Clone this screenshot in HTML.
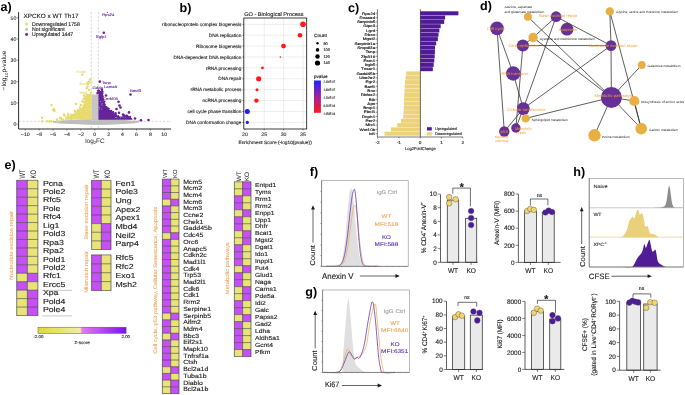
<!DOCTYPE html><html><head><meta charset="utf-8"><style>html,body{margin:0;padding:0;background:#fff;width:685px;height:395px;overflow:hidden}svg{display:block;font-family:"Liberation Sans",sans-serif;text-rendering:geometricPrecision;filter:blur(0.3px)}</style></head><body><svg width="685" height="395" viewBox="0 0 685 395"><rect width="685" height="395" fill="#fff"/>
<defs><linearGradient id="pv" x1="0" y1="0" x2="0" y2="1"><stop offset="0" stop-color="#2222ff"/><stop offset="0.5" stop-color="#a020a0"/><stop offset="1" stop-color="#ff1a1a"/></linearGradient><linearGradient id="zs" x1="0" y1="0" x2="1" y2="0"><stop offset="0" stop-color="#e0d83a"/><stop offset="0.48" stop-color="#eeeea6"/><stop offset="0.5" stop-color="#e37af5"/><stop offset="1" stop-color="#7a12ee"/></linearGradient></defs>
<line x1="91.30" y1="12.00" x2="91.30" y2="129.00" stroke="#b0b0b0" stroke-width="0.5" stroke-dasharray="2.2,1.6"/>
<line x1="98.40" y1="12.00" x2="98.40" y2="129.00" stroke="#b0b0b0" stroke-width="0.5" stroke-dasharray="2.2,1.6"/>
<line x1="18.60" y1="121.40" x2="171.00" y2="121.40" stroke="#b0b0b0" stroke-width="0.5" stroke-dasharray="2.2,1.6"/>
<ellipse cx="96" cy="122.0" rx="43.5" ry="2.5" fill="#BDBDBD"/>
<ellipse cx="100" cy="121.9" rx="30" ry="2.9" fill="#BDBDBD"/>
<path d="M91.40,121.00 L91.40,97.00 L93.00,93.50 L95.00,95.50 L96.50,92.80 L98.50,94.00 L98.50,121.00 Z" fill="#C6C6C6" />
<circle cx="53.50" cy="121.60" r="1.00" fill="#BDBDBD" />
<circle cx="56.00" cy="121.80" r="1.00" fill="#BDBDBD" />
<circle cx="58.50" cy="121.60" r="1.00" fill="#BDBDBD" />
<circle cx="134.00" cy="121.30" r="1.00" fill="#BDBDBD" />
<circle cx="136.00" cy="121.50" r="1.00" fill="#BDBDBD" />
<circle cx="138.50" cy="121.20" r="1.00" fill="#BDBDBD" />
<path d="M91.50,119.80 L91.50,96.00 L90.00,95.30 L88.50,96.20 L87.00,97.80 L86.00,100.50 L85.30,103.00 L84.50,106.00 L83.20,108.50 L81.00,110.00 L79.00,111.80 L77.00,113.00 L74.50,114.50 L72.00,115.20 L69.50,116.80 L67.00,118.00 L64.00,119.80 Z" fill="#E8DA6C" />
<path d="M98.40,119.80 L98.40,92.50 L99.80,91.50 L101.30,93.00 L102.00,97.00 L102.50,101.00 L103.30,105.00 L105.50,108.00 L108.00,110.00 L112.00,113.00 L115.00,115.00 L120.00,116.50 L127.00,117.30 L131.80,118.00 L132.60,119.80 Z" fill="#66249A" />
<circle cx="84.32" cy="106.02" r="1.00" fill="#E8DA6C" />
<circle cx="67.95" cy="117.68" r="1.00" fill="#E8DA6C" />
<circle cx="81.37" cy="110.87" r="1.00" fill="#E8DA6C" />
<circle cx="85.41" cy="98.81" r="1.00" fill="#E8DA6C" />
<circle cx="87.77" cy="95.28" r="1.00" fill="#E8DA6C" />
<circle cx="88.67" cy="97.08" r="1.00" fill="#E8DA6C" />
<circle cx="91.29" cy="96.31" r="1.00" fill="#E8DA6C" />
<circle cx="80.17" cy="111.76" r="1.00" fill="#E8DA6C" />
<circle cx="87.82" cy="96.11" r="1.00" fill="#E8DA6C" />
<circle cx="89.47" cy="95.91" r="1.00" fill="#E8DA6C" />
<circle cx="84.97" cy="98.83" r="1.00" fill="#E8DA6C" />
<circle cx="81.18" cy="109.60" r="1.00" fill="#E8DA6C" />
<circle cx="71.62" cy="115.12" r="1.00" fill="#E8DA6C" />
<circle cx="86.66" cy="100.78" r="1.00" fill="#E8DA6C" />
<circle cx="86.54" cy="102.50" r="1.00" fill="#E8DA6C" />
<circle cx="87.97" cy="98.26" r="1.00" fill="#E8DA6C" />
<circle cx="91.07" cy="95.87" r="1.00" fill="#E8DA6C" />
<circle cx="69.27" cy="117.88" r="1.00" fill="#E8DA6C" />
<circle cx="78.11" cy="112.07" r="1.00" fill="#E8DA6C" />
<circle cx="87.27" cy="96.37" r="1.00" fill="#E8DA6C" />
<circle cx="89.97" cy="96.59" r="1.00" fill="#E8DA6C" />
<circle cx="74.75" cy="115.10" r="1.00" fill="#E8DA6C" />
<circle cx="76.92" cy="113.21" r="1.00" fill="#E8DA6C" />
<circle cx="80.20" cy="112.50" r="1.00" fill="#E8DA6C" />
<circle cx="85.78" cy="98.58" r="1.00" fill="#E8DA6C" />
<circle cx="81.94" cy="108.98" r="1.00" fill="#E8DA6C" />
<circle cx="87.75" cy="96.96" r="1.00" fill="#E8DA6C" />
<circle cx="82.86" cy="107.66" r="1.00" fill="#E8DA6C" />
<circle cx="87.14" cy="98.79" r="1.00" fill="#E8DA6C" />
<circle cx="87.27" cy="97.33" r="1.00" fill="#E8DA6C" />
<circle cx="85.24" cy="100.93" r="1.00" fill="#E8DA6C" />
<circle cx="79.62" cy="113.45" r="1.00" fill="#E8DA6C" />
<circle cx="77.63" cy="111.59" r="1.00" fill="#E8DA6C" />
<circle cx="68.68" cy="116.59" r="1.00" fill="#E8DA6C" />
<circle cx="83.17" cy="107.63" r="1.00" fill="#E8DA6C" />
<circle cx="84.98" cy="106.41" r="1.00" fill="#E8DA6C" />
<circle cx="88.00" cy="96.13" r="1.00" fill="#E8DA6C" />
<circle cx="79.39" cy="112.49" r="1.00" fill="#E8DA6C" />
<circle cx="91.62" cy="96.79" r="1.00" fill="#E8DA6C" />
<circle cx="75.88" cy="114.08" r="1.00" fill="#E8DA6C" />
<circle cx="87.35" cy="95.59" r="1.00" fill="#E8DA6C" />
<circle cx="82.49" cy="109.44" r="1.00" fill="#E8DA6C" />
<circle cx="83.34" cy="105.41" r="1.00" fill="#E8DA6C" />
<circle cx="82.01" cy="109.71" r="1.00" fill="#E8DA6C" />
<circle cx="88.77" cy="96.53" r="1.00" fill="#E8DA6C" />
<circle cx="86.22" cy="101.89" r="1.00" fill="#E8DA6C" />
<circle cx="86.34" cy="101.34" r="1.00" fill="#E8DA6C" />
<circle cx="86.61" cy="98.45" r="1.00" fill="#E8DA6C" />
<circle cx="86.75" cy="97.98" r="1.00" fill="#E8DA6C" />
<circle cx="86.81" cy="98.63" r="1.00" fill="#E8DA6C" />
<circle cx="85.34" cy="98.41" r="1.00" fill="#E8DA6C" />
<circle cx="89.73" cy="95.55" r="1.00" fill="#E8DA6C" />
<circle cx="75.09" cy="113.64" r="1.00" fill="#E8DA6C" />
<circle cx="84.12" cy="106.34" r="1.00" fill="#E8DA6C" />
<circle cx="85.99" cy="99.95" r="1.00" fill="#E8DA6C" />
<circle cx="76.02" cy="112.98" r="1.00" fill="#E8DA6C" />
<circle cx="70.62" cy="115.84" r="1.00" fill="#E8DA6C" />
<circle cx="83.48" cy="106.93" r="1.00" fill="#E8DA6C" />
<circle cx="87.60" cy="96.61" r="1.00" fill="#E8DA6C" />
<circle cx="71.74" cy="116.04" r="1.00" fill="#E8DA6C" />
<circle cx="74.32" cy="114.60" r="1.00" fill="#E8DA6C" />
<circle cx="77.37" cy="112.41" r="1.00" fill="#E8DA6C" />
<circle cx="65.92" cy="117.86" r="1.00" fill="#E8DA6C" />
<circle cx="87.78" cy="97.19" r="1.00" fill="#E8DA6C" />
<circle cx="70.81" cy="114.61" r="1.00" fill="#E8DA6C" />
<circle cx="83.84" cy="110.19" r="1.00" fill="#E8DA6C" />
<circle cx="90.94" cy="96.47" r="1.00" fill="#E8DA6C" />
<circle cx="76.71" cy="111.72" r="1.00" fill="#E8DA6C" />
<circle cx="89.53" cy="96.15" r="1.00" fill="#E8DA6C" />
<circle cx="75.69" cy="112.60" r="1.00" fill="#E8DA6C" />
<circle cx="81.36" cy="111.11" r="1.00" fill="#E8DA6C" />
<circle cx="68.43" cy="117.40" r="1.00" fill="#E8DA6C" />
<circle cx="72.41" cy="116.41" r="1.00" fill="#E8DA6C" />
<circle cx="88.67" cy="96.77" r="1.00" fill="#E8DA6C" />
<circle cx="80.34" cy="109.03" r="1.00" fill="#E8DA6C" />
<circle cx="90.87" cy="97.35" r="1.00" fill="#E8DA6C" />
<circle cx="81.97" cy="111.15" r="1.00" fill="#E8DA6C" />
<circle cx="88.52" cy="95.01" r="1.00" fill="#E8DA6C" />
<circle cx="80.42" cy="111.42" r="1.00" fill="#E8DA6C" />
<circle cx="72.11" cy="115.46" r="1.00" fill="#E8DA6C" />
<circle cx="85.83" cy="102.43" r="1.00" fill="#E8DA6C" />
<circle cx="83.60" cy="109.38" r="1.00" fill="#E8DA6C" />
<circle cx="88.43" cy="96.17" r="1.00" fill="#E8DA6C" />
<circle cx="85.87" cy="102.15" r="1.00" fill="#E8DA6C" />
<circle cx="72.43" cy="115.46" r="1.00" fill="#E8DA6C" />
<circle cx="87.47" cy="99.93" r="1.00" fill="#E8DA6C" />
<circle cx="84.05" cy="109.35" r="1.00" fill="#E8DA6C" />
<circle cx="85.85" cy="98.69" r="1.00" fill="#E8DA6C" />
<circle cx="84.72" cy="104.57" r="1.00" fill="#E8DA6C" />
<circle cx="84.37" cy="102.74" r="1.00" fill="#E8DA6C" />
<circle cx="90.17" cy="95.65" r="1.00" fill="#E8DA6C" />
<circle cx="90.40" cy="95.08" r="1.00" fill="#E8DA6C" />
<circle cx="89.61" cy="97.31" r="1.00" fill="#E8DA6C" />
<circle cx="88.74" cy="97.32" r="1.00" fill="#E8DA6C" />
<circle cx="74.92" cy="114.74" r="1.00" fill="#E8DA6C" />
<circle cx="79.74" cy="110.66" r="1.00" fill="#E8DA6C" />
<circle cx="91.08" cy="97.19" r="1.00" fill="#E8DA6C" />
<circle cx="84.27" cy="101.64" r="1.00" fill="#E8DA6C" />
<circle cx="89.21" cy="96.54" r="1.00" fill="#E8DA6C" />
<circle cx="88.71" cy="96.68" r="1.00" fill="#E8DA6C" />
<circle cx="86.93" cy="102.43" r="1.00" fill="#E8DA6C" />
<circle cx="88.50" cy="96.74" r="1.00" fill="#E8DA6C" />
<circle cx="84.96" cy="101.95" r="1.00" fill="#E8DA6C" />
<circle cx="82.46" cy="110.00" r="1.00" fill="#E8DA6C" />
<circle cx="90.18" cy="95.34" r="1.00" fill="#E8DA6C" />
<circle cx="80.28" cy="111.94" r="1.00" fill="#E8DA6C" />
<circle cx="83.37" cy="107.79" r="1.00" fill="#E8DA6C" />
<circle cx="83.83" cy="107.78" r="1.00" fill="#E8DA6C" />
<circle cx="86.34" cy="102.13" r="1.00" fill="#E8DA6C" />
<circle cx="67.23" cy="117.37" r="1.00" fill="#E8DA6C" />
<circle cx="105.54" cy="107.82" r="1.00" fill="#66249A" />
<circle cx="125.17" cy="117.63" r="1.00" fill="#66249A" />
<circle cx="100.01" cy="93.23" r="1.00" fill="#66249A" />
<circle cx="102.88" cy="103.14" r="1.00" fill="#66249A" />
<circle cx="100.75" cy="93.86" r="1.00" fill="#66249A" />
<circle cx="104.80" cy="107.72" r="1.00" fill="#66249A" />
<circle cx="103.01" cy="102.61" r="1.00" fill="#66249A" />
<circle cx="99.91" cy="92.20" r="1.00" fill="#66249A" />
<circle cx="115.72" cy="115.45" r="1.00" fill="#66249A" />
<circle cx="101.77" cy="94.65" r="1.00" fill="#66249A" />
<circle cx="104.96" cy="104.66" r="1.00" fill="#66249A" />
<circle cx="101.37" cy="93.82" r="1.00" fill="#66249A" />
<circle cx="107.22" cy="108.50" r="1.00" fill="#66249A" />
<circle cx="102.91" cy="103.69" r="1.00" fill="#66249A" />
<circle cx="130.26" cy="116.87" r="1.00" fill="#66249A" />
<circle cx="111.36" cy="113.12" r="1.00" fill="#66249A" />
<circle cx="97.91" cy="90.72" r="1.00" fill="#66249A" />
<circle cx="126.46" cy="116.97" r="1.00" fill="#66249A" />
<circle cx="98.31" cy="92.69" r="1.00" fill="#66249A" />
<circle cx="109.36" cy="110.77" r="1.00" fill="#66249A" />
<circle cx="121.63" cy="117.69" r="1.00" fill="#66249A" />
<circle cx="99.81" cy="92.60" r="1.00" fill="#66249A" />
<circle cx="123.65" cy="115.90" r="1.00" fill="#66249A" />
<circle cx="101.21" cy="94.27" r="1.00" fill="#66249A" />
<circle cx="103.41" cy="99.80" r="1.00" fill="#66249A" />
<circle cx="106.32" cy="107.76" r="1.00" fill="#66249A" />
<circle cx="99.04" cy="91.60" r="1.00" fill="#66249A" />
<circle cx="100.73" cy="93.20" r="1.00" fill="#66249A" />
<circle cx="118.16" cy="115.88" r="1.00" fill="#66249A" />
<circle cx="103.79" cy="105.26" r="1.00" fill="#66249A" />
<circle cx="108.16" cy="110.77" r="1.00" fill="#66249A" />
<circle cx="112.20" cy="112.25" r="1.00" fill="#66249A" />
<circle cx="103.44" cy="104.85" r="1.00" fill="#66249A" />
<circle cx="105.40" cy="110.11" r="1.00" fill="#66249A" />
<circle cx="104.61" cy="101.51" r="1.00" fill="#66249A" />
<circle cx="101.36" cy="93.22" r="1.00" fill="#66249A" />
<circle cx="104.05" cy="104.43" r="1.00" fill="#66249A" />
<circle cx="101.08" cy="94.46" r="1.00" fill="#66249A" />
<circle cx="110.77" cy="113.04" r="1.00" fill="#66249A" />
<circle cx="123.00" cy="117.33" r="1.00" fill="#66249A" />
<circle cx="104.71" cy="106.68" r="1.00" fill="#66249A" />
<circle cx="105.19" cy="106.87" r="1.00" fill="#66249A" />
<circle cx="102.96" cy="99.42" r="1.00" fill="#66249A" />
<circle cx="102.04" cy="106.35" r="1.00" fill="#66249A" />
<circle cx="99.69" cy="92.36" r="1.00" fill="#66249A" />
<circle cx="100.05" cy="92.64" r="1.00" fill="#66249A" />
<circle cx="126.55" cy="117.96" r="1.00" fill="#66249A" />
<circle cx="113.18" cy="112.07" r="1.00" fill="#66249A" />
<circle cx="108.19" cy="108.59" r="1.00" fill="#66249A" />
<circle cx="113.59" cy="113.82" r="1.00" fill="#66249A" />
<circle cx="128.60" cy="117.26" r="1.00" fill="#66249A" />
<circle cx="103.86" cy="102.34" r="1.00" fill="#66249A" />
<circle cx="101.21" cy="95.52" r="1.00" fill="#66249A" />
<circle cx="130.02" cy="117.06" r="1.00" fill="#66249A" />
<circle cx="101.31" cy="97.89" r="1.00" fill="#66249A" />
<circle cx="102.69" cy="96.06" r="1.00" fill="#66249A" />
<circle cx="109.43" cy="111.89" r="1.00" fill="#66249A" />
<circle cx="109.07" cy="111.08" r="1.00" fill="#66249A" />
<circle cx="102.10" cy="94.73" r="1.00" fill="#66249A" />
<circle cx="103.20" cy="104.41" r="1.00" fill="#66249A" />
<circle cx="106.44" cy="108.15" r="1.00" fill="#66249A" />
<circle cx="103.44" cy="102.63" r="1.00" fill="#66249A" />
<circle cx="102.31" cy="105.35" r="1.00" fill="#66249A" />
<circle cx="102.75" cy="96.83" r="1.00" fill="#66249A" />
<circle cx="124.80" cy="116.36" r="1.00" fill="#66249A" />
<circle cx="97.22" cy="93.07" r="1.00" fill="#66249A" />
<circle cx="111.52" cy="112.93" r="1.00" fill="#66249A" />
<circle cx="115.24" cy="114.59" r="1.00" fill="#66249A" />
<circle cx="101.52" cy="93.80" r="1.00" fill="#66249A" />
<circle cx="100.98" cy="91.63" r="1.00" fill="#66249A" />
<circle cx="108.35" cy="110.21" r="1.00" fill="#66249A" />
<circle cx="102.60" cy="93.31" r="1.00" fill="#66249A" />
<circle cx="102.50" cy="104.06" r="1.00" fill="#66249A" />
<circle cx="107.51" cy="109.62" r="1.00" fill="#66249A" />
<circle cx="115.08" cy="115.54" r="1.00" fill="#66249A" />
<circle cx="112.07" cy="114.30" r="1.00" fill="#66249A" />
<circle cx="102.12" cy="103.36" r="1.00" fill="#66249A" />
<circle cx="109.90" cy="111.51" r="1.00" fill="#66249A" />
<circle cx="107.19" cy="109.59" r="1.00" fill="#66249A" />
<circle cx="111.32" cy="112.36" r="1.00" fill="#66249A" />
<circle cx="102.91" cy="99.38" r="1.00" fill="#66249A" />
<circle cx="99.21" cy="90.97" r="1.00" fill="#66249A" />
<circle cx="106.43" cy="106.98" r="1.00" fill="#66249A" />
<circle cx="111.60" cy="113.15" r="1.00" fill="#66249A" />
<circle cx="102.39" cy="99.42" r="1.00" fill="#66249A" />
<circle cx="101.71" cy="100.57" r="1.00" fill="#66249A" />
<circle cx="102.50" cy="98.78" r="1.00" fill="#66249A" />
<circle cx="115.24" cy="115.61" r="1.00" fill="#66249A" />
<circle cx="116.01" cy="115.31" r="1.00" fill="#66249A" />
<circle cx="106.44" cy="108.14" r="1.00" fill="#66249A" />
<circle cx="102.03" cy="92.66" r="1.00" fill="#66249A" />
<circle cx="100.76" cy="95.45" r="1.00" fill="#66249A" />
<circle cx="102.40" cy="104.26" r="1.00" fill="#66249A" />
<circle cx="104.55" cy="106.56" r="1.00" fill="#66249A" />
<circle cx="100.77" cy="91.90" r="1.00" fill="#66249A" />
<circle cx="102.28" cy="97.75" r="1.00" fill="#66249A" />
<circle cx="105.55" cy="107.60" r="1.00" fill="#66249A" />
<circle cx="115.06" cy="115.64" r="1.00" fill="#66249A" />
<circle cx="106.73" cy="110.97" r="1.00" fill="#66249A" />
<circle cx="105.92" cy="108.15" r="1.00" fill="#66249A" />
<circle cx="98.73" cy="90.32" r="1.00" fill="#66249A" />
<circle cx="102.96" cy="108.01" r="1.00" fill="#66249A" />
<circle cx="98.60" cy="91.47" r="1.00" fill="#66249A" />
<circle cx="102.52" cy="101.00" r="1.00" fill="#66249A" />
<circle cx="128.17" cy="117.93" r="1.00" fill="#66249A" />
<circle cx="102.66" cy="91.61" r="1.00" fill="#66249A" />
<circle cx="108.89" cy="108.73" r="1.00" fill="#66249A" />
<circle cx="102.61" cy="98.19" r="1.00" fill="#66249A" />
<circle cx="128.27" cy="117.03" r="1.00" fill="#66249A" />
<circle cx="101.80" cy="99.08" r="1.00" fill="#66249A" />
<circle cx="81.06" cy="111.82" r="0.45" fill="#ffffff" fill-opacity="0.8"/>
<circle cx="84.57" cy="116.05" r="0.45" fill="#ffffff" fill-opacity="0.8"/>
<circle cx="87.12" cy="102.50" r="0.45" fill="#ffffff" fill-opacity="0.8"/>
<circle cx="86.23" cy="111.31" r="0.45" fill="#ffffff" fill-opacity="0.8"/>
<circle cx="91.25" cy="97.81" r="0.45" fill="#ffffff" fill-opacity="0.8"/>
<circle cx="77.06" cy="115.37" r="0.45" fill="#ffffff" fill-opacity="0.8"/>
<circle cx="87.12" cy="117.70" r="0.45" fill="#ffffff" fill-opacity="0.8"/>
<circle cx="90.76" cy="109.59" r="0.45" fill="#ffffff" fill-opacity="0.8"/>
<circle cx="89.58" cy="104.42" r="0.45" fill="#ffffff" fill-opacity="0.8"/>
<circle cx="87.82" cy="106.30" r="0.45" fill="#ffffff" fill-opacity="0.8"/>
<circle cx="90.01" cy="97.89" r="0.45" fill="#ffffff" fill-opacity="0.8"/>
<circle cx="85.87" cy="108.73" r="0.45" fill="#ffffff" fill-opacity="0.8"/>
<circle cx="75.65" cy="115.40" r="0.45" fill="#ffffff" fill-opacity="0.8"/>
<circle cx="75.17" cy="116.93" r="0.45" fill="#ffffff" fill-opacity="0.8"/>
<circle cx="98.91" cy="107.11" r="0.45" fill="#ffffff" fill-opacity="0.8"/>
<circle cx="120.31" cy="117.25" r="0.45" fill="#ffffff" fill-opacity="0.8"/>
<circle cx="101.44" cy="109.11" r="0.45" fill="#ffffff" fill-opacity="0.8"/>
<circle cx="116.22" cy="117.69" r="0.45" fill="#ffffff" fill-opacity="0.8"/>
<circle cx="102.12" cy="105.38" r="0.45" fill="#ffffff" fill-opacity="0.8"/>
<circle cx="112.23" cy="115.45" r="0.45" fill="#ffffff" fill-opacity="0.8"/>
<circle cx="123.19" cy="116.89" r="0.45" fill="#ffffff" fill-opacity="0.8"/>
<circle cx="99.81" cy="107.41" r="0.45" fill="#ffffff" fill-opacity="0.8"/>
<circle cx="99.20" cy="109.01" r="0.45" fill="#ffffff" fill-opacity="0.8"/>
<circle cx="102.79" cy="103.69" r="0.45" fill="#ffffff" fill-opacity="0.8"/>
<circle cx="101.54" cy="104.01" r="0.45" fill="#ffffff" fill-opacity="0.8"/>
<circle cx="125.36" cy="117.84" r="0.45" fill="#ffffff" fill-opacity="0.8"/>
<circle cx="100.64" cy="101.43" r="0.45" fill="#ffffff" fill-opacity="0.8"/>
<circle cx="115.58" cy="117.53" r="0.45" fill="#ffffff" fill-opacity="0.8"/>
<circle cx="53.00" cy="110.00" r="1.20" fill="#E8DA6C" />
<circle cx="64.00" cy="114.50" r="1.20" fill="#E8DA6C" />
<circle cx="68.00" cy="115.50" r="1.20" fill="#E8DA6C" />
<circle cx="60.00" cy="118.00" r="1.20" fill="#E8DA6C" />
<circle cx="79.00" cy="112.00" r="1.20" fill="#E8DA6C" />
<circle cx="75.00" cy="116.00" r="1.20" fill="#E8DA6C" />
<circle cx="57.00" cy="119.50" r="1.20" fill="#E8DA6C" />
<circle cx="62.00" cy="119.60" r="1.20" fill="#E8DA6C" />
<circle cx="71.00" cy="119.00" r="1.20" fill="#E8DA6C" />
<circle cx="61.00" cy="118.00" r="1.20" fill="#E8DA6C" />
<circle cx="63.00" cy="119.60" r="1.20" fill="#E8DA6C" />
<circle cx="64.50" cy="115.50" r="1.20" fill="#E8DA6C" />
<circle cx="68.00" cy="114.00" r="1.20" fill="#E8DA6C" />
<circle cx="73.00" cy="115.50" r="1.20" fill="#E8DA6C" />
<circle cx="75.00" cy="111.00" r="1.20" fill="#E8DA6C" />
<circle cx="75.80" cy="104.00" r="1.20" fill="#E8DA6C" />
<circle cx="78.00" cy="110.00" r="1.20" fill="#E8DA6C" />
<circle cx="80.00" cy="107.50" r="1.20" fill="#E8DA6C" />
<circle cx="81.00" cy="105.00" r="1.20" fill="#E8DA6C" />
<circle cx="82.50" cy="101.50" r="1.20" fill="#E8DA6C" />
<circle cx="83.50" cy="99.00" r="1.20" fill="#E8DA6C" />
<circle cx="85.00" cy="97.00" r="1.20" fill="#E8DA6C" />
<circle cx="84.00" cy="95.50" r="1.20" fill="#E8DA6C" />
<circle cx="86.50" cy="94.50" r="1.20" fill="#E8DA6C" />
<circle cx="90.00" cy="95.00" r="1.20" fill="#E8DA6C" />
<circle cx="91.00" cy="92.50" r="1.20" fill="#E8DA6C" />
<circle cx="89.00" cy="90.00" r="1.20" fill="#E8DA6C" />
<circle cx="86.80" cy="88.30" r="1.20" fill="#E8DA6C" />
<circle cx="87.50" cy="86.50" r="1.20" fill="#E8DA6C" />
<circle cx="88.00" cy="84.00" r="1.20" fill="#E8DA6C" />
<circle cx="89.20" cy="81.40" r="1.20" fill="#E8DA6C" />
<circle cx="90.00" cy="79.50" r="1.20" fill="#E8DA6C" />
<circle cx="88.50" cy="82.50" r="1.20" fill="#E8DA6C" />
<circle cx="82.30" cy="74.60" r="1.20" fill="#E8DA6C" />
<circle cx="42.00" cy="117.70" r="1.20" fill="#E8DA6C" />
<circle cx="42.30" cy="121.50" r="1.20" fill="#E8DA6C" />
<circle cx="47.50" cy="121.30" r="1.20" fill="#E8DA6C" />
<circle cx="49.50" cy="121.50" r="1.20" fill="#E8DA6C" />
<circle cx="51.00" cy="121.20" r="1.20" fill="#E8DA6C" />
<circle cx="51.50" cy="105.00" r="1.20" fill="#E8DA6C" />
<circle cx="54.00" cy="109.20" r="1.20" fill="#E8DA6C" />
<circle cx="54.50" cy="111.00" r="1.20" fill="#E8DA6C" />
<circle cx="57.50" cy="121.30" r="1.20" fill="#E8DA6C" />
<circle cx="116.50" cy="109.00" r="1.30" fill="#66249A" />
<circle cx="119.00" cy="112.70" r="1.30" fill="#66249A" />
<circle cx="123.00" cy="114.50" r="1.30" fill="#66249A" />
<circle cx="126.50" cy="115.80" r="1.30" fill="#66249A" />
<circle cx="135.00" cy="118.50" r="1.30" fill="#66249A" />
<circle cx="99.90" cy="81.60" r="1.30" fill="#66249A" />
<circle cx="101.90" cy="89.70" r="1.30" fill="#66249A" />
<circle cx="99.00" cy="92.00" r="1.30" fill="#66249A" />
<circle cx="100.50" cy="93.50" r="1.30" fill="#66249A" />
<circle cx="106.00" cy="95.50" r="1.30" fill="#66249A" />
<circle cx="118.50" cy="101.70" r="1.30" fill="#66249A" />
<circle cx="119.50" cy="105.50" r="1.30" fill="#66249A" />
<circle cx="120.50" cy="107.50" r="1.30" fill="#66249A" />
<circle cx="107.00" cy="108.70" r="1.30" fill="#66249A" />
<circle cx="104.00" cy="104.00" r="1.30" fill="#66249A" />
<circle cx="111.00" cy="111.00" r="1.30" fill="#66249A" />
<circle cx="115.50" cy="113.40" r="1.30" fill="#66249A" />
<circle cx="129.00" cy="112.40" r="1.30" fill="#66249A" />
<circle cx="130.50" cy="94.50" r="1.30" fill="#66249A" />
<circle cx="103.80" cy="32.80" r="1.30" fill="#66249A" />
<circle cx="112.00" cy="116.00" r="1.30" fill="#66249A" />
<circle cx="124.00" cy="115.50" r="1.30" fill="#66249A" />
<circle cx="127.00" cy="116.00" r="1.30" fill="#66249A" />
<circle cx="141.00" cy="120.20" r="1.30" fill="#66249A" />
<circle cx="148.50" cy="120.00" r="1.30" fill="#66249A" />
<circle cx="107.30" cy="12.30" r="0.60" fill="#66249A" />
<line x1="18.60" y1="12.10" x2="18.60" y2="129.00" stroke="#2a2a2a" stroke-width="1.0" />
<line x1="18.60" y1="129.00" x2="171.10" y2="129.00" stroke="#2a2a2a" stroke-width="1.0" />
<line x1="17.10" y1="124.20" x2="18.60" y2="124.20" stroke="#333" stroke-width="0.6" />
<text x="16.40" y="126.20" font-size="5.2" fill="#333" stroke="#333" stroke-width="0.120" text-anchor="end" >0</text>
<line x1="17.10" y1="102.90" x2="18.60" y2="102.90" stroke="#333" stroke-width="0.6" />
<text x="16.40" y="104.90" font-size="5.2" fill="#333" stroke="#333" stroke-width="0.120" text-anchor="end" >10</text>
<line x1="17.10" y1="81.60" x2="18.60" y2="81.60" stroke="#333" stroke-width="0.6" />
<text x="16.40" y="83.60" font-size="5.2" fill="#333" stroke="#333" stroke-width="0.120" text-anchor="end" >20</text>
<line x1="17.10" y1="60.30" x2="18.60" y2="60.30" stroke="#333" stroke-width="0.6" />
<text x="16.40" y="62.30" font-size="5.2" fill="#333" stroke="#333" stroke-width="0.120" text-anchor="end" >30</text>
<line x1="17.10" y1="39.00" x2="18.60" y2="39.00" stroke="#333" stroke-width="0.6" />
<text x="16.40" y="41.00" font-size="5.2" fill="#333" stroke="#333" stroke-width="0.120" text-anchor="end" >40</text>
<line x1="17.10" y1="17.70" x2="18.60" y2="17.70" stroke="#333" stroke-width="0.6" />
<text x="16.40" y="19.70" font-size="5.2" fill="#333" stroke="#333" stroke-width="0.120" text-anchor="end" >50</text>
<line x1="25.30" y1="129.00" x2="25.30" y2="130.50" stroke="#333" stroke-width="0.6" />
<text x="25.30" y="135.60" font-size="5.0" fill="#333" stroke="#333" stroke-width="0.120" text-anchor="middle" textLength="8.91" lengthAdjust="spacingAndGlyphs" >−10</text>
<line x1="39.20" y1="129.00" x2="39.20" y2="130.50" stroke="#333" stroke-width="0.6" />
<text x="39.20" y="135.60" font-size="5.0" fill="#333" stroke="#333" stroke-width="0.120" text-anchor="middle" textLength="5.99" lengthAdjust="spacingAndGlyphs" >−8</text>
<line x1="53.10" y1="129.00" x2="53.10" y2="130.50" stroke="#333" stroke-width="0.6" />
<text x="53.10" y="135.60" font-size="5.0" fill="#333" stroke="#333" stroke-width="0.120" text-anchor="middle" textLength="5.99" lengthAdjust="spacingAndGlyphs" >−6</text>
<line x1="67.00" y1="129.00" x2="67.00" y2="130.50" stroke="#333" stroke-width="0.6" />
<text x="67.00" y="135.60" font-size="5.0" fill="#333" stroke="#333" stroke-width="0.120" text-anchor="middle" textLength="5.99" lengthAdjust="spacingAndGlyphs" >−4</text>
<line x1="80.90" y1="129.00" x2="80.90" y2="130.50" stroke="#333" stroke-width="0.6" />
<text x="80.90" y="135.60" font-size="5.0" fill="#333" stroke="#333" stroke-width="0.120" text-anchor="middle" textLength="5.99" lengthAdjust="spacingAndGlyphs" >−2</text>
<line x1="94.80" y1="129.00" x2="94.80" y2="130.50" stroke="#333" stroke-width="0.6" />
<text x="94.80" y="135.60" font-size="5.0" fill="#333" stroke="#333" stroke-width="0.120" text-anchor="middle" textLength="2.92" lengthAdjust="spacingAndGlyphs" >0</text>
<line x1="108.70" y1="129.00" x2="108.70" y2="130.50" stroke="#333" stroke-width="0.6" />
<text x="108.70" y="135.60" font-size="5.0" fill="#333" stroke="#333" stroke-width="0.120" text-anchor="middle" textLength="2.92" lengthAdjust="spacingAndGlyphs" >2</text>
<line x1="122.60" y1="129.00" x2="122.60" y2="130.50" stroke="#333" stroke-width="0.6" />
<text x="122.60" y="135.60" font-size="5.0" fill="#333" stroke="#333" stroke-width="0.120" text-anchor="middle" textLength="2.92" lengthAdjust="spacingAndGlyphs" >4</text>
<line x1="136.50" y1="129.00" x2="136.50" y2="130.50" stroke="#333" stroke-width="0.6" />
<text x="136.50" y="135.60" font-size="5.0" fill="#333" stroke="#333" stroke-width="0.120" text-anchor="middle" textLength="2.92" lengthAdjust="spacingAndGlyphs" >6</text>
<line x1="150.40" y1="129.00" x2="150.40" y2="130.50" stroke="#333" stroke-width="0.6" />
<text x="150.40" y="135.60" font-size="5.0" fill="#333" stroke="#333" stroke-width="0.120" text-anchor="middle" textLength="2.92" lengthAdjust="spacingAndGlyphs" >8</text>
<line x1="164.30" y1="129.00" x2="164.30" y2="130.50" stroke="#333" stroke-width="0.6" />
<text x="164.30" y="135.60" font-size="5.0" fill="#333" stroke="#333" stroke-width="0.120" text-anchor="middle" textLength="5.84" lengthAdjust="spacingAndGlyphs" >10</text>
<text x="0" y="0" font-size="6.4" fill="#222" text-anchor="middle" textLength="39.8" lengthAdjust="spacingAndGlyphs" transform="translate(6.3 70.5) rotate(-90)">−log<tspan font-size="4.2" dy="1.4">10</tspan><tspan dy="-1.4">p-value</tspan></text>
<text x="85.2" y="142.9" font-size="6.4" fill="#222">log<tspan font-size="4.2" dy="1.5">2</tspan><tspan dy="-1.5">FC</tspan></text>
<text x="23.50" y="17.90" font-size="6.1" fill="#1a1a1a" stroke="#1a1a1a" stroke-width="0.120" textLength="55.00" lengthAdjust="spacingAndGlyphs" >XPCKO x WT Th17</text>
<circle cx="26.60" cy="24.10" r="1.45" fill="#E8DA6C" />
<text x="32.00" y="26.00" font-size="5.4" fill="#1a1a1a" stroke="#1a1a1a" stroke-width="0.120" textLength="47.80" lengthAdjust="spacingAndGlyphs" >Downregulated 1758</text>
<circle cx="26.60" cy="29.40" r="1.45" fill="#BDBDBD" />
<text x="32.00" y="31.30" font-size="5.4" fill="#1a1a1a" stroke="#1a1a1a" stroke-width="0.120" textLength="32.60" lengthAdjust="spacingAndGlyphs" >Not significant</text>
<circle cx="26.60" cy="34.50" r="1.45" fill="#66249A" />
<text x="32.00" y="36.40" font-size="5.4" fill="#1a1a1a" stroke="#1a1a1a" stroke-width="0.120" textLength="41.20" lengthAdjust="spacingAndGlyphs" >Upregulated 1447</text>
<text x="102.00" y="15.50" font-size="3.7" fill="#66249A" stroke="#66249A" stroke-width="0.100" textLength="12.30" lengthAdjust="spacingAndGlyphs" >Rps24</text>
<text x="95.80" y="37.50" font-size="3.7" fill="#66249A" stroke="#66249A" stroke-width="0.100" textLength="10.88" lengthAdjust="spacingAndGlyphs" >Sgip1</text>
<text x="76.50" y="73.00" font-size="3.7" fill="#E8DA6C" stroke="#E8DA6C" stroke-width="0.100" textLength="9.46" lengthAdjust="spacingAndGlyphs" >Fosb</text>
<text x="79.50" y="85.00" font-size="3.7" fill="#E8DA6C" stroke="#E8DA6C" stroke-width="0.100" textLength="9.70" lengthAdjust="spacingAndGlyphs" >Ecn2</text>
<text x="86.00" y="84.00" font-size="3.7" fill="#E8DA6C" stroke="#E8DA6C" stroke-width="0.100" textLength="6.62" lengthAdjust="spacingAndGlyphs" >Nfe</text>
<text x="79.50" y="94.00" font-size="3.7" fill="#E8DA6C" stroke="#E8DA6C" stroke-width="0.100" textLength="7.09" lengthAdjust="spacingAndGlyphs" >Mef</text>
<text x="102.00" y="84.00" font-size="3.7" fill="#66249A" stroke="#66249A" stroke-width="0.100" textLength="8.99" lengthAdjust="spacingAndGlyphs" >Tsnp</text>
<text x="92.50" y="89.00" font-size="3.7" fill="#66249A" stroke="#66249A" stroke-width="0.100" textLength="10.41" lengthAdjust="spacingAndGlyphs" >Gdda</text>
<text x="104.00" y="88.00" font-size="3.7" fill="#66249A" stroke="#66249A" stroke-width="0.100" textLength="13.01" lengthAdjust="spacingAndGlyphs" >Lama5</text>
<text x="103.00" y="99.50" font-size="3.7" fill="#66249A" stroke="#66249A" stroke-width="0.100" textLength="14.90" lengthAdjust="spacingAndGlyphs" >Cerhl05</text>
<text x="130.00" y="92.00" font-size="3.7" fill="#66249A" stroke="#66249A" stroke-width="0.100" textLength="11.11" lengthAdjust="spacingAndGlyphs" >Bmd3</text>
<line x1="243.80" y1="24.30" x2="306.70" y2="24.30" stroke="#d8d8d8" stroke-width="0.45" />
<line x1="243.80" y1="35.20" x2="306.70" y2="35.20" stroke="#d8d8d8" stroke-width="0.45" />
<line x1="243.80" y1="46.10" x2="306.70" y2="46.10" stroke="#d8d8d8" stroke-width="0.45" />
<line x1="243.80" y1="57.00" x2="306.70" y2="57.00" stroke="#d8d8d8" stroke-width="0.45" />
<line x1="243.80" y1="67.90" x2="306.70" y2="67.90" stroke="#d8d8d8" stroke-width="0.45" />
<line x1="243.80" y1="78.80" x2="306.70" y2="78.80" stroke="#d8d8d8" stroke-width="0.45" />
<line x1="243.80" y1="89.70" x2="306.70" y2="89.70" stroke="#d8d8d8" stroke-width="0.45" />
<line x1="243.80" y1="100.60" x2="306.70" y2="100.60" stroke="#d8d8d8" stroke-width="0.45" />
<line x1="243.80" y1="111.50" x2="306.70" y2="111.50" stroke="#d8d8d8" stroke-width="0.45" />
<line x1="243.80" y1="122.40" x2="306.70" y2="122.40" stroke="#d8d8d8" stroke-width="0.45" />
<line x1="244.90" y1="18.00" x2="244.90" y2="129.00" stroke="#d8d8d8" stroke-width="0.45" />
<line x1="264.25" y1="18.00" x2="264.25" y2="129.00" stroke="#d8d8d8" stroke-width="0.45" />
<line x1="283.60" y1="18.00" x2="283.60" y2="129.00" stroke="#d8d8d8" stroke-width="0.45" />
<line x1="302.95" y1="18.00" x2="302.95" y2="129.00" stroke="#d8d8d8" stroke-width="0.45" />
<rect x="243.80" y="18.00" width="62.90" height="111.00" fill="none" stroke="#111" stroke-width="0.8" />
<line x1="242.40" y1="24.30" x2="243.80" y2="24.30" stroke="#111" stroke-width="0.5" />
<text x="241.40" y="25.95" font-size="4.6" fill="#333" stroke="#333" stroke-width="0.160" text-anchor="end" textLength="79.27" lengthAdjust="spacingAndGlyphs" >ribonucleoprotein complex biogenesis</text>
<line x1="242.40" y1="35.20" x2="243.80" y2="35.20" stroke="#111" stroke-width="0.5" />
<text x="241.40" y="36.85" font-size="4.6" fill="#333" stroke="#333" stroke-width="0.160" text-anchor="end" textLength="32.65" lengthAdjust="spacingAndGlyphs" >DNA replication</text>
<line x1="242.40" y1="46.10" x2="243.80" y2="46.10" stroke="#111" stroke-width="0.5" />
<text x="241.40" y="47.75" font-size="4.6" fill="#333" stroke="#333" stroke-width="0.160" text-anchor="end" textLength="45.30" lengthAdjust="spacingAndGlyphs" >Ribosome biogenesis</text>
<line x1="242.40" y1="57.00" x2="243.80" y2="57.00" stroke="#111" stroke-width="0.5" />
<text x="241.40" y="58.65" font-size="4.6" fill="#333" stroke="#333" stroke-width="0.160" text-anchor="end" textLength="67.95" lengthAdjust="spacingAndGlyphs" >DNA-dependent DNA replication</text>
<line x1="242.40" y1="67.90" x2="243.80" y2="67.90" stroke="#111" stroke-width="0.5" />
<text x="241.40" y="69.55" font-size="4.6" fill="#333" stroke="#333" stroke-width="0.160" text-anchor="end" textLength="35.55" lengthAdjust="spacingAndGlyphs" >rRNA processing</text>
<line x1="242.40" y1="78.80" x2="243.80" y2="78.80" stroke="#111" stroke-width="0.5" />
<text x="241.40" y="80.45" font-size="4.6" fill="#333" stroke="#333" stroke-width="0.160" text-anchor="end" textLength="23.17" lengthAdjust="spacingAndGlyphs" >DNA repair</text>
<line x1="242.40" y1="89.70" x2="243.80" y2="89.70" stroke="#111" stroke-width="0.5" />
<text x="241.40" y="91.35" font-size="4.6" fill="#333" stroke="#333" stroke-width="0.160" text-anchor="end" textLength="50.82" lengthAdjust="spacingAndGlyphs" >rRNA metabolic process</text>
<line x1="242.40" y1="100.60" x2="243.80" y2="100.60" stroke="#111" stroke-width="0.5" />
<text x="241.40" y="102.25" font-size="4.6" fill="#333" stroke="#333" stroke-width="0.160" text-anchor="end" textLength="38.97" lengthAdjust="spacingAndGlyphs" >ncRNA processing</text>
<line x1="242.40" y1="111.50" x2="243.80" y2="111.50" stroke="#111" stroke-width="0.5" />
<text x="241.40" y="113.15" font-size="4.6" fill="#333" stroke="#333" stroke-width="0.160" text-anchor="end" textLength="53.98" lengthAdjust="spacingAndGlyphs" >cell cycle phase transition</text>
<line x1="242.40" y1="122.40" x2="243.80" y2="122.40" stroke="#111" stroke-width="0.5" />
<text x="241.40" y="124.05" font-size="4.6" fill="#333" stroke="#333" stroke-width="0.160" text-anchor="end" textLength="55.31" lengthAdjust="spacingAndGlyphs" >DNA conformation change</text>
<line x1="244.90" y1="129.00" x2="244.90" y2="130.30" stroke="#111" stroke-width="0.5" />
<text x="244.90" y="136.00" font-size="5.0" fill="#333" stroke="#333" stroke-width="0.120" text-anchor="middle" textLength="5.84" lengthAdjust="spacingAndGlyphs" >20</text>
<line x1="264.25" y1="129.00" x2="264.25" y2="130.30" stroke="#111" stroke-width="0.5" />
<text x="264.25" y="136.00" font-size="5.0" fill="#333" stroke="#333" stroke-width="0.120" text-anchor="middle" textLength="5.84" lengthAdjust="spacingAndGlyphs" >25</text>
<line x1="283.60" y1="129.00" x2="283.60" y2="130.30" stroke="#111" stroke-width="0.5" />
<text x="283.60" y="136.00" font-size="5.0" fill="#333" stroke="#333" stroke-width="0.120" text-anchor="middle" textLength="5.84" lengthAdjust="spacingAndGlyphs" >30</text>
<line x1="302.95" y1="129.00" x2="302.95" y2="130.30" stroke="#111" stroke-width="0.5" />
<text x="302.95" y="136.00" font-size="5.0" fill="#333" stroke="#333" stroke-width="0.120" text-anchor="middle" textLength="5.84" lengthAdjust="spacingAndGlyphs" >35</text>
<text x="275.10" y="144.00" font-size="4.6" fill="#333" stroke="#333" stroke-width="0.160" text-anchor="middle" textLength="73.30" lengthAdjust="spacingAndGlyphs" >Enrichment Score (-log10(pvalue))</text>
<text x="244.20" y="15.60" font-size="5.4" fill="#222" stroke="#222" stroke-width="0.120" textLength="59.40" lengthAdjust="spacingAndGlyphs" >GO - Biological Process</text>
<circle cx="303.00" cy="24.30" r="2.80" fill="#ff1818" />
<circle cx="300.00" cy="35.20" r="2.30" fill="#ff1818" />
<circle cx="283.50" cy="46.10" r="2.40" fill="#ff1818" />
<circle cx="280.40" cy="57.00" r="0.80" fill="#ff1818" />
<circle cx="262.50" cy="67.90" r="1.40" fill="#ff1818" />
<circle cx="258.70" cy="78.80" r="2.60" fill="#ff1818" />
<circle cx="257.00" cy="89.70" r="1.50" fill="#ff1818" />
<circle cx="256.40" cy="100.60" r="2.20" fill="#ff1818" />
<circle cx="247.30" cy="111.50" r="2.50" fill="#1c1cff" />
<circle cx="247.30" cy="122.40" r="1.60" fill="#1c1cff" />
<text x="314.00" y="37.30" font-size="4.6" fill="#222" stroke="#222" stroke-width="0.160" textLength="12.89" lengthAdjust="spacingAndGlyphs" >Count</text>
<circle cx="317.50" cy="43.30" r="1.20" fill="#000" />
<text x="323.40" y="44.70" font-size="3.8" fill="#333" stroke="#333" stroke-width="0.160" textLength="4.44" lengthAdjust="spacingAndGlyphs" >80</text>
<circle cx="317.50" cy="49.90" r="1.80" fill="#000" />
<text x="323.40" y="51.30" font-size="3.8" fill="#333" stroke="#333" stroke-width="0.160" textLength="6.66" lengthAdjust="spacingAndGlyphs" >100</text>
<circle cx="317.50" cy="56.50" r="2.20" fill="#000" />
<text x="323.40" y="57.90" font-size="3.8" fill="#333" stroke="#333" stroke-width="0.160" textLength="6.66" lengthAdjust="spacingAndGlyphs" >120</text>
<circle cx="317.50" cy="63.00" r="2.60" fill="#000" />
<text x="323.40" y="64.40" font-size="3.8" fill="#333" stroke="#333" stroke-width="0.160" textLength="6.66" lengthAdjust="spacingAndGlyphs" >140</text>
<text x="314.00" y="78.00" font-size="4.4" fill="#222" stroke="#222" stroke-width="0.160" textLength="13.61" lengthAdjust="spacingAndGlyphs" >pvalue</text>
<rect x="314.00" y="80.50" width="6.90" height="32.30" fill="url(#pv)" />
<text x="323.60" y="82.60" font-size="3.4" fill="#383838" stroke="#383838" stroke-width="0.160" textLength="11.50" lengthAdjust="spacingAndGlyphs" >2.400E-07</text>
<text x="323.60" y="90.70" font-size="3.4" fill="#383838" stroke="#383838" stroke-width="0.160" textLength="11.50" lengthAdjust="spacingAndGlyphs" >1.800E-07</text>
<text x="323.60" y="98.80" font-size="3.4" fill="#383838" stroke="#383838" stroke-width="0.160" textLength="11.50" lengthAdjust="spacingAndGlyphs" >1.200E-07</text>
<text x="323.60" y="106.90" font-size="3.4" fill="#383838" stroke="#383838" stroke-width="0.160" textLength="11.50" lengthAdjust="spacingAndGlyphs" >6.002E-08</text>
<text x="323.60" y="115.00" font-size="3.4" fill="#383838" stroke="#383838" stroke-width="0.160" textLength="11.50" lengthAdjust="spacingAndGlyphs" >1.058E-08</text>
<rect x="420.40" y="11.30" width="38.00" height="4.00" fill="#501A96" />
<line x1="375.60" y1="13.30" x2="377.40" y2="13.30" stroke="#222" stroke-width="0.45" />
<text x="375.20" y="14.55" font-size="3.5" fill="#222" stroke="#222" stroke-width="0.160" text-anchor="end" textLength="13.15" lengthAdjust="spacingAndGlyphs" >Rps24</text>
<rect x="420.40" y="15.60" width="24.70" height="4.00" fill="#501A96" />
<line x1="375.60" y1="17.60" x2="377.40" y2="17.60" stroke="#222" stroke-width="0.45" />
<text x="375.20" y="18.85" font-size="3.5" fill="#222" stroke="#222" stroke-width="0.160" text-anchor="end" textLength="15.68" lengthAdjust="spacingAndGlyphs" >Rnase4</text>
<rect x="420.40" y="19.90" width="23.80" height="4.00" fill="#501A96" />
<line x1="375.60" y1="21.90" x2="377.40" y2="21.90" stroke="#222" stroke-width="0.45" />
<text x="375.20" y="23.15" font-size="3.5" fill="#222" stroke="#222" stroke-width="0.160" text-anchor="end" textLength="18.21" lengthAdjust="spacingAndGlyphs" >Serpinb5</text>
<rect x="420.40" y="24.20" width="20.30" height="4.00" fill="#501A96" />
<line x1="375.60" y1="26.20" x2="377.40" y2="26.20" stroke="#222" stroke-width="0.45" />
<text x="375.20" y="27.45" font-size="3.5" fill="#222" stroke="#222" stroke-width="0.160" text-anchor="end" textLength="11.89" lengthAdjust="spacingAndGlyphs" >Gipc3</text>
<rect x="420.40" y="28.50" width="19.00" height="4.00" fill="#501A96" />
<line x1="375.60" y1="30.50" x2="377.40" y2="30.50" stroke="#222" stroke-width="0.45" />
<text x="375.20" y="31.75" font-size="3.5" fill="#222" stroke="#222" stroke-width="0.160" text-anchor="end" textLength="9.11" lengthAdjust="spacingAndGlyphs" >Lgr4</text>
<rect x="420.40" y="32.80" width="18.10" height="4.00" fill="#501A96" />
<line x1="375.60" y1="34.80" x2="377.40" y2="34.80" stroke="#222" stroke-width="0.45" />
<text x="375.20" y="36.05" font-size="3.5" fill="#222" stroke="#222" stroke-width="0.160" text-anchor="end" textLength="10.62" lengthAdjust="spacingAndGlyphs" >Rbcn</text>
<rect x="420.40" y="37.10" width="17.50" height="4.00" fill="#501A96" />
<line x1="375.60" y1="39.10" x2="377.40" y2="39.10" stroke="#222" stroke-width="0.45" />
<text x="375.20" y="40.35" font-size="3.5" fill="#222" stroke="#222" stroke-width="0.160" text-anchor="end" textLength="12.39" lengthAdjust="spacingAndGlyphs" >Mgst2</text>
<rect x="420.40" y="41.40" width="15.80" height="4.00" fill="#501A96" />
<line x1="375.60" y1="43.40" x2="377.40" y2="43.40" stroke="#222" stroke-width="0.45" />
<text x="375.20" y="44.65" font-size="3.5" fill="#222" stroke="#222" stroke-width="0.160" text-anchor="end" textLength="20.74" lengthAdjust="spacingAndGlyphs" >Serpinb1a</text>
<rect x="420.40" y="45.70" width="14.60" height="4.00" fill="#501A96" />
<line x1="375.60" y1="47.70" x2="377.40" y2="47.70" stroke="#222" stroke-width="0.45" />
<text x="375.20" y="48.95" font-size="3.5" fill="#222" stroke="#222" stroke-width="0.160" text-anchor="end" textLength="17.96" lengthAdjust="spacingAndGlyphs" >Smpdl3a</text>
<rect x="420.40" y="50.00" width="14.50" height="4.00" fill="#501A96" />
<line x1="375.60" y1="52.00" x2="377.40" y2="52.00" stroke="#222" stroke-width="0.45" />
<text x="375.20" y="53.25" font-size="3.5" fill="#222" stroke="#222" stroke-width="0.160" text-anchor="end" textLength="9.61" lengthAdjust="spacingAndGlyphs" >Tsnp</text>
<rect x="420.40" y="54.30" width="14.30" height="4.00" fill="#501A96" />
<line x1="375.60" y1="56.30" x2="377.40" y2="56.30" stroke="#222" stroke-width="0.45" />
<text x="375.20" y="57.55" font-size="3.5" fill="#222" stroke="#222" stroke-width="0.160" text-anchor="end" textLength="14.16" lengthAdjust="spacingAndGlyphs" >Zfp316</text>
<rect x="420.40" y="58.60" width="13.90" height="4.00" fill="#501A96" />
<line x1="375.60" y1="60.60" x2="377.40" y2="60.60" stroke="#222" stroke-width="0.45" />
<text x="375.20" y="61.85" font-size="3.5" fill="#222" stroke="#222" stroke-width="0.160" text-anchor="end" textLength="11.63" lengthAdjust="spacingAndGlyphs" >Esm1</text>
<rect x="420.40" y="62.90" width="13.30" height="4.00" fill="#501A96" />
<line x1="375.60" y1="64.90" x2="377.40" y2="64.90" stroke="#222" stroke-width="0.45" />
<text x="375.20" y="66.15" font-size="3.5" fill="#222" stroke="#222" stroke-width="0.160" text-anchor="end" textLength="10.12" lengthAdjust="spacingAndGlyphs" >Itgb5</text>
<rect x="420.40" y="67.20" width="12.40" height="4.00" fill="#501A96" />
<line x1="375.60" y1="69.20" x2="377.40" y2="69.20" stroke="#222" stroke-width="0.45" />
<text x="375.20" y="70.45" font-size="3.5" fill="#222" stroke="#222" stroke-width="0.160" text-anchor="end" textLength="14.16" lengthAdjust="spacingAndGlyphs" >Tnsar1</text>
<rect x="406.20" y="71.50" width="14.20" height="4.00" fill="#ECD27A" />
<line x1="375.60" y1="73.50" x2="377.40" y2="73.50" stroke="#222" stroke-width="0.45" />
<text x="375.20" y="74.75" font-size="3.5" fill="#222" stroke="#222" stroke-width="0.160" text-anchor="end" textLength="18.72" lengthAdjust="spacingAndGlyphs" >Gadd45b</text>
<rect x="405.60" y="75.80" width="14.80" height="4.00" fill="#ECD27A" />
<line x1="375.60" y1="77.80" x2="377.40" y2="77.80" stroke="#222" stroke-width="0.45" />
<text x="375.20" y="79.05" font-size="3.5" fill="#222" stroke="#222" stroke-width="0.160" text-anchor="end" textLength="15.94" lengthAdjust="spacingAndGlyphs" >Ube2e2</text>
<rect x="405.00" y="80.10" width="15.40" height="4.00" fill="#ECD27A" />
<line x1="375.60" y1="82.10" x2="377.40" y2="82.10" stroke="#222" stroke-width="0.45" />
<text x="375.20" y="83.35" font-size="3.5" fill="#222" stroke="#222" stroke-width="0.160" text-anchor="end" textLength="9.61" lengthAdjust="spacingAndGlyphs" >Egr2</text>
<rect x="404.70" y="84.40" width="15.70" height="4.00" fill="#ECD27A" />
<line x1="375.60" y1="86.40" x2="377.40" y2="86.40" stroke="#222" stroke-width="0.45" />
<text x="375.20" y="87.65" font-size="3.5" fill="#222" stroke="#222" stroke-width="0.160" text-anchor="end" textLength="10.62" lengthAdjust="spacingAndGlyphs" >Batf1</text>
<rect x="404.50" y="88.70" width="15.90" height="4.00" fill="#ECD27A" />
<line x1="375.60" y1="90.70" x2="377.40" y2="90.70" stroke="#222" stroke-width="0.45" />
<text x="375.20" y="91.95" font-size="3.5" fill="#222" stroke="#222" stroke-width="0.160" text-anchor="end" textLength="7.84" lengthAdjust="spacingAndGlyphs" >Bnc</text>
<rect x="404.30" y="93.00" width="16.10" height="4.00" fill="#ECD27A" />
<line x1="375.60" y1="95.00" x2="377.40" y2="95.00" stroke="#222" stroke-width="0.45" />
<text x="375.20" y="96.25" font-size="3.5" fill="#222" stroke="#222" stroke-width="0.160" text-anchor="end" textLength="14.42" lengthAdjust="spacingAndGlyphs" >Rbfox2</text>
<rect x="404.10" y="97.30" width="16.30" height="4.00" fill="#ECD27A" />
<line x1="375.60" y1="99.30" x2="377.40" y2="99.30" stroke="#222" stroke-width="0.45" />
<text x="375.20" y="100.55" font-size="3.5" fill="#222" stroke="#222" stroke-width="0.160" text-anchor="end" textLength="6.32" lengthAdjust="spacingAndGlyphs" >Blk</text>
<rect x="404.00" y="101.60" width="16.40" height="4.00" fill="#ECD27A" />
<line x1="375.60" y1="103.60" x2="377.40" y2="103.60" stroke="#222" stroke-width="0.45" />
<text x="375.20" y="104.85" font-size="3.5" fill="#222" stroke="#222" stroke-width="0.160" text-anchor="end" textLength="7.84" lengthAdjust="spacingAndGlyphs" >Apc</text>
<rect x="403.80" y="105.90" width="16.60" height="4.00" fill="#ECD27A" />
<line x1="375.60" y1="107.90" x2="377.40" y2="107.90" stroke="#222" stroke-width="0.45" />
<text x="375.20" y="109.15" font-size="3.5" fill="#222" stroke="#222" stroke-width="0.160" text-anchor="end" textLength="11.89" lengthAdjust="spacingAndGlyphs" >Bmp1</text>
<rect x="403.50" y="110.20" width="16.90" height="4.00" fill="#ECD27A" />
<line x1="375.60" y1="112.20" x2="377.40" y2="112.20" stroke="#222" stroke-width="0.45" />
<text x="375.20" y="113.45" font-size="3.5" fill="#222" stroke="#222" stroke-width="0.160" text-anchor="end" textLength="11.38" lengthAdjust="spacingAndGlyphs" >Ebcl1</text>
<rect x="403.20" y="114.50" width="17.20" height="4.00" fill="#ECD27A" />
<line x1="375.60" y1="116.50" x2="377.40" y2="116.50" stroke="#222" stroke-width="0.45" />
<text x="375.20" y="117.75" font-size="3.5" fill="#222" stroke="#222" stroke-width="0.160" text-anchor="end" textLength="13.41" lengthAdjust="spacingAndGlyphs" >Dnph1</text>
<rect x="400.90" y="118.80" width="19.50" height="4.00" fill="#ECD27A" />
<line x1="375.60" y1="120.80" x2="377.40" y2="120.80" stroke="#222" stroke-width="0.45" />
<text x="375.20" y="122.05" font-size="3.5" fill="#222" stroke="#222" stroke-width="0.160" text-anchor="end" textLength="9.61" lengthAdjust="spacingAndGlyphs" >Per2</text>
<rect x="397.20" y="123.10" width="23.20" height="4.00" fill="#ECD27A" />
<line x1="375.60" y1="125.10" x2="377.40" y2="125.10" stroke="#222" stroke-width="0.45" />
<text x="375.20" y="126.35" font-size="3.5" fill="#222" stroke="#222" stroke-width="0.160" text-anchor="end" textLength="9.61" lengthAdjust="spacingAndGlyphs" >Mlc1</text>
<rect x="391.00" y="127.40" width="29.40" height="4.00" fill="#ECD27A" />
<line x1="375.60" y1="129.40" x2="377.40" y2="129.40" stroke="#222" stroke-width="0.45" />
<text x="375.20" y="130.65" font-size="3.5" fill="#222" stroke="#222" stroke-width="0.160" text-anchor="end" textLength="15.68" lengthAdjust="spacingAndGlyphs" >Wnt10b</text>
<rect x="384.50" y="131.70" width="35.90" height="4.00" fill="#ECD27A" />
<line x1="375.60" y1="133.70" x2="377.40" y2="133.70" stroke="#222" stroke-width="0.45" />
<text x="375.20" y="134.95" font-size="3.5" fill="#222" stroke="#222" stroke-width="0.160" text-anchor="end" textLength="6.32" lengthAdjust="spacingAndGlyphs" >Id1</text>
<line x1="377.40" y1="9.20" x2="377.40" y2="137.00" stroke="#222" stroke-width="0.6" />
<line x1="420.40" y1="9.20" x2="420.40" y2="137.00" stroke="#111" stroke-width="0.6" />
<line x1="377.40" y1="137.00" x2="463.00" y2="137.00" stroke="#222" stroke-width="0.6" />
<line x1="377.60" y1="137.00" x2="377.60" y2="138.40" stroke="#222" stroke-width="0.5" />
<text x="377.60" y="143.60" font-size="4.3" fill="#333" stroke="#333" stroke-width="0.160" text-anchor="middle" textLength="4.21" lengthAdjust="spacingAndGlyphs" >-2</text>
<line x1="398.90" y1="137.00" x2="398.90" y2="138.40" stroke="#222" stroke-width="0.5" />
<text x="398.90" y="143.60" font-size="4.3" fill="#333" stroke="#333" stroke-width="0.160" text-anchor="middle" textLength="4.21" lengthAdjust="spacingAndGlyphs" >-1</text>
<line x1="420.20" y1="137.00" x2="420.20" y2="138.40" stroke="#222" stroke-width="0.5" />
<text x="420.20" y="143.60" font-size="4.3" fill="#333" stroke="#333" stroke-width="0.160" text-anchor="middle" textLength="2.63" lengthAdjust="spacingAndGlyphs" >0</text>
<line x1="441.50" y1="137.00" x2="441.50" y2="138.40" stroke="#222" stroke-width="0.5" />
<text x="441.50" y="143.60" font-size="4.3" fill="#333" stroke="#333" stroke-width="0.160" text-anchor="middle" textLength="2.63" lengthAdjust="spacingAndGlyphs" >1</text>
<line x1="462.80" y1="137.00" x2="462.80" y2="138.40" stroke="#222" stroke-width="0.5" />
<text x="462.80" y="143.60" font-size="4.3" fill="#333" stroke="#333" stroke-width="0.160" text-anchor="middle" textLength="2.63" lengthAdjust="spacingAndGlyphs" >2</text>
<text x="420.40" y="149.70" font-size="4.2" fill="#333" stroke="#333" stroke-width="0.160" text-anchor="middle" textLength="30.80" lengthAdjust="spacingAndGlyphs" >Log2FoldChange</text>
<rect x="427.00" y="127.20" width="4.80" height="3.30" fill="#501A96" />
<text x="435.00" y="130.20" font-size="3.8" fill="#333" stroke="#333" stroke-width="0.160" textLength="21.70" lengthAdjust="spacingAndGlyphs" >Upregulated</text>
<rect x="427.00" y="132.20" width="4.80" height="3.30" fill="#ECD27A" />
<text x="435.00" y="135.20" font-size="3.8" fill="#333" stroke="#333" stroke-width="0.160" textLength="26.80" lengthAdjust="spacingAndGlyphs" >Downregulated</text>
<line x1="497.00" y1="28.40" x2="513.20" y2="73.50" stroke="#2a2a2a" stroke-width="0.75" />
<line x1="497.00" y1="28.40" x2="504.30" y2="131.50" stroke="#2a2a2a" stroke-width="0.75" />
<line x1="522.90" y1="45.50" x2="515.90" y2="128.00" stroke="#2a2a2a" stroke-width="0.75" />
<line x1="522.90" y1="45.50" x2="611.00" y2="45.60" stroke="#2a2a2a" stroke-width="0.75" />
<line x1="513.20" y1="73.50" x2="523.30" y2="108.60" stroke="#2a2a2a" stroke-width="0.75" />
<line x1="556.10" y1="16.70" x2="533.10" y2="37.50" stroke="#2a2a2a" stroke-width="0.75" />
<line x1="556.10" y1="16.70" x2="611.00" y2="45.60" stroke="#2a2a2a" stroke-width="0.75" />
<line x1="556.10" y1="16.70" x2="523.30" y2="108.60" stroke="#2a2a2a" stroke-width="0.75" />
<line x1="527.90" y1="16.80" x2="611.40" y2="97.40" stroke="#2a2a2a" stroke-width="0.75" />
<line x1="533.10" y1="37.50" x2="611.40" y2="97.40" stroke="#2a2a2a" stroke-width="0.75" />
<line x1="609.80" y1="11.40" x2="611.00" y2="45.60" stroke="#2a2a2a" stroke-width="0.75" />
<line x1="609.80" y1="11.40" x2="641.20" y2="128.60" stroke="#2a2a2a" stroke-width="0.75" />
<line x1="611.00" y1="45.60" x2="611.40" y2="97.40" stroke="#2a2a2a" stroke-width="0.75" />
<line x1="611.00" y1="45.60" x2="523.30" y2="108.60" stroke="#2a2a2a" stroke-width="0.75" />
<line x1="611.40" y1="97.40" x2="641.80" y2="65.00" stroke="#2a2a2a" stroke-width="0.75" />
<line x1="611.40" y1="97.40" x2="634.30" y2="101.00" stroke="#2a2a2a" stroke-width="0.75" />
<line x1="611.40" y1="97.40" x2="641.20" y2="128.60" stroke="#2a2a2a" stroke-width="0.75" />
<line x1="611.40" y1="97.40" x2="594.50" y2="135.30" stroke="#2a2a2a" stroke-width="0.75" />
<line x1="525.70" y1="118.40" x2="611.40" y2="97.40" stroke="#2a2a2a" stroke-width="0.75" />
<line x1="504.30" y1="131.50" x2="523.30" y2="108.60" stroke="#2a2a2a" stroke-width="0.75" />
<line x1="515.90" y1="128.00" x2="523.30" y2="108.60" stroke="#2a2a2a" stroke-width="0.75" />
<line x1="634.30" y1="101.00" x2="641.20" y2="128.60" stroke="#2a2a2a" stroke-width="0.75" />
<line x1="533.10" y1="37.50" x2="522.90" y2="45.50" stroke="#2a2a2a" stroke-width="0.75" />
<circle cx="497.00" cy="28.40" r="6.80" fill="#663096" />
<circle cx="527.90" cy="16.80" r="4.00" fill="#E8AF44" />
<circle cx="556.10" cy="16.70" r="5.40" fill="#663096" />
<circle cx="567.00" cy="29.20" r="6.40" fill="#663096" />
<circle cx="609.80" cy="11.40" r="4.20" fill="#E8AF44" />
<circle cx="533.10" cy="37.50" r="4.70" fill="#E8AF44" />
<circle cx="522.90" cy="45.50" r="6.10" fill="#663096" />
<circle cx="611.00" cy="45.60" r="5.40" fill="#663096" />
<circle cx="641.80" cy="65.00" r="3.90" fill="#E8AF44" />
<circle cx="513.20" cy="73.50" r="7.20" fill="#663096" />
<circle cx="611.40" cy="97.40" r="10.50" fill="#663096" />
<circle cx="634.30" cy="101.00" r="5.10" fill="#E8AF44" />
<circle cx="523.30" cy="108.60" r="6.40" fill="#663096" />
<circle cx="525.70" cy="118.40" r="4.20" fill="#E8AF44" />
<circle cx="515.90" cy="128.00" r="4.70" fill="#663096" />
<circle cx="504.30" cy="131.50" r="5.20" fill="#663096" />
<circle cx="641.20" cy="128.60" r="5.80" fill="#E8AF44" />
<circle cx="594.50" cy="135.30" r="6.20" fill="#E8AF44" />
<text x="504.50" y="8.30" font-size="3.1" fill="#222" textLength="27.70" lengthAdjust="spacingAndGlyphs" >Alanine, aspartate</text>
<text x="504.50" y="12.50" font-size="3.1" fill="#222" textLength="39.80" lengthAdjust="spacingAndGlyphs" >and glutamate metabolism</text>
<text x="539.00" y="16.90" font-size="4.0" fill="#F0A040" textLength="38.10" lengthAdjust="spacingAndGlyphs" >Base excision repair</text>
<text x="486.90" y="29.80" font-size="4.0" fill="#F0A040" textLength="18.00" lengthAdjust="spacingAndGlyphs" >Cell cycle</text>
<text x="558.70" y="30.60" font-size="4.0" fill="#F0A040" textLength="18.40" lengthAdjust="spacingAndGlyphs" >Apoptosis</text>
<text x="616.00" y="13.30" font-size="3.1" fill="#222" textLength="62.20" lengthAdjust="spacingAndGlyphs" >Glycine, serine and threonine metabolism</text>
<text x="539.70" y="39.60" font-size="3.1" fill="#222" textLength="55.30" lengthAdjust="spacingAndGlyphs" >Cysteine and methionine metabolism</text>
<text x="508.40" y="47.00" font-size="4.0" fill="#F0A040" textLength="29.90" lengthAdjust="spacingAndGlyphs" >DNA replication</text>
<text x="589.00" y="46.60" font-size="4.0" fill="#F0A040" textLength="48.50" lengthAdjust="spacingAndGlyphs" >Nucleotide excision repair</text>
<text x="647.40" y="67.00" font-size="3.1" fill="#222" textLength="33.20" lengthAdjust="spacingAndGlyphs" >Galactose metabolism</text>
<text x="501.40" y="75.40" font-size="4.0" fill="#F0A040" textLength="26.80" lengthAdjust="spacingAndGlyphs" >RNA transport</text>
<text x="594.50" y="96.90" font-size="4.0" fill="#F0A040" textLength="37.00" lengthAdjust="spacingAndGlyphs" >Metabolic pathways</text>
<text x="641.20" y="103.10" font-size="3.1" fill="#222" textLength="43.00" lengthAdjust="spacingAndGlyphs" >Biosynthesis of amino acids</text>
<text x="507.20" y="111.40" font-size="4.0" fill="#F0A040" textLength="38.50" lengthAdjust="spacingAndGlyphs" >Cellular senescence</text>
<text x="531.70" y="121.10" font-size="3.1" fill="#222" textLength="36.20" lengthAdjust="spacingAndGlyphs" >Sphingolipid metabolism</text>
<text x="514.90" y="129.80" font-size="4.0" fill="#F0A040" textLength="16.80" lengthAdjust="spacingAndGlyphs" >Mismatch</text>
<text x="516.30" y="134.00" font-size="4.0" fill="#F0A040" textLength="10.00" lengthAdjust="spacingAndGlyphs" >repair</text>
<text x="500.60" y="132.80" font-size="4.0" fill="#F0A040" textLength="7.20" lengthAdjust="spacingAndGlyphs" >p53</text>
<text x="494.80" y="138.00" font-size="3.6" fill="#F0A040" textLength="13.60" lengthAdjust="spacingAndGlyphs" >signaling</text>
<text x="495.50" y="142.00" font-size="3.6" fill="#F0A040" textLength="12.90" lengthAdjust="spacingAndGlyphs" >pathway</text>
<text x="649.00" y="131.00" font-size="3.1" fill="#222" textLength="29.00" lengthAdjust="spacingAndGlyphs" >Carbon metabolism</text>
<text x="601.80" y="138.30" font-size="3.1" fill="#222" textLength="28.10" lengthAdjust="spacingAndGlyphs" >Purine metabolism</text>
<rect x="16.70" y="180.30" width="10.65" height="8.45" fill="#c64ff8" />
<rect x="27.35" y="180.30" width="10.55" height="8.45" fill="#e8e47a" />
<rect x="16.70" y="188.75" width="10.65" height="8.45" fill="#c64ff8" />
<rect x="27.35" y="188.75" width="10.55" height="8.45" fill="#e8e47a" />
<rect x="16.70" y="197.20" width="10.65" height="8.45" fill="#c64ff8" />
<rect x="27.35" y="197.20" width="10.55" height="8.45" fill="#e8e47a" />
<rect x="16.70" y="205.65" width="10.65" height="8.45" fill="#c64ff8" />
<rect x="27.35" y="205.65" width="10.55" height="8.45" fill="#e8e47a" />
<rect x="16.70" y="214.10" width="10.65" height="8.45" fill="#c64ff8" />
<rect x="27.35" y="214.10" width="10.55" height="8.45" fill="#e8e47a" />
<rect x="16.70" y="222.55" width="10.65" height="8.45" fill="#c64ff8" />
<rect x="27.35" y="222.55" width="10.55" height="8.45" fill="#e8e47a" />
<rect x="16.70" y="231.00" width="10.65" height="8.45" fill="#c64ff8" />
<rect x="27.35" y="231.00" width="10.55" height="8.45" fill="#e8e47a" />
<rect x="16.70" y="239.45" width="10.65" height="8.45" fill="#c64ff8" />
<rect x="27.35" y="239.45" width="10.55" height="8.45" fill="#e8e47a" />
<rect x="16.70" y="247.90" width="10.65" height="8.45" fill="#c64ff8" />
<rect x="27.35" y="247.90" width="10.55" height="8.45" fill="#e8e47a" />
<rect x="16.70" y="256.35" width="10.65" height="8.45" fill="#c64ff8" />
<rect x="27.35" y="256.35" width="10.55" height="8.45" fill="#e8e47a" />
<rect x="16.70" y="264.80" width="10.65" height="8.45" fill="#c64ff8" />
<rect x="27.35" y="264.80" width="10.55" height="8.45" fill="#e8e47a" />
<rect x="16.70" y="273.25" width="10.65" height="8.45" fill="#e8e47a" />
<rect x="27.35" y="273.25" width="10.55" height="8.45" fill="#c64ff8" />
<rect x="16.70" y="281.70" width="10.65" height="8.45" fill="#c64ff8" />
<rect x="27.35" y="281.70" width="10.55" height="8.45" fill="#e8e47a" />
<rect x="16.70" y="290.15" width="10.65" height="8.45" fill="#e8e47a" />
<rect x="27.35" y="290.15" width="10.55" height="8.45" fill="#c64ff8" />
<rect x="16.70" y="298.60" width="10.65" height="8.45" fill="#e8e47a" />
<rect x="27.35" y="298.60" width="10.55" height="8.45" fill="#c64ff8" />
<rect x="16.70" y="307.05" width="10.65" height="8.45" fill="#e8e47a" />
<rect x="27.35" y="307.05" width="10.55" height="8.45" fill="#c64ff8" />
<line x1="16.70" y1="180.30" x2="37.90" y2="180.30" stroke="#3c3c3c" stroke-width="0.6" />
<line x1="16.70" y1="188.75" x2="37.90" y2="188.75" stroke="#3c3c3c" stroke-width="0.6" />
<line x1="16.70" y1="197.20" x2="37.90" y2="197.20" stroke="#3c3c3c" stroke-width="0.6" />
<line x1="16.70" y1="205.65" x2="37.90" y2="205.65" stroke="#3c3c3c" stroke-width="0.6" />
<line x1="16.70" y1="214.10" x2="37.90" y2="214.10" stroke="#3c3c3c" stroke-width="0.6" />
<line x1="16.70" y1="222.55" x2="37.90" y2="222.55" stroke="#3c3c3c" stroke-width="0.6" />
<line x1="16.70" y1="231.00" x2="37.90" y2="231.00" stroke="#3c3c3c" stroke-width="0.6" />
<line x1="16.70" y1="239.45" x2="37.90" y2="239.45" stroke="#3c3c3c" stroke-width="0.6" />
<line x1="16.70" y1="247.90" x2="37.90" y2="247.90" stroke="#3c3c3c" stroke-width="0.6" />
<line x1="16.70" y1="256.35" x2="37.90" y2="256.35" stroke="#3c3c3c" stroke-width="0.6" />
<line x1="16.70" y1="264.80" x2="37.90" y2="264.80" stroke="#3c3c3c" stroke-width="0.6" />
<line x1="16.70" y1="273.25" x2="37.90" y2="273.25" stroke="#3c3c3c" stroke-width="0.6" />
<line x1="16.70" y1="281.70" x2="37.90" y2="281.70" stroke="#3c3c3c" stroke-width="0.6" />
<line x1="16.70" y1="290.15" x2="37.90" y2="290.15" stroke="#3c3c3c" stroke-width="0.6" />
<line x1="16.70" y1="298.60" x2="37.90" y2="298.60" stroke="#3c3c3c" stroke-width="0.6" />
<line x1="16.70" y1="307.05" x2="37.90" y2="307.05" stroke="#3c3c3c" stroke-width="0.6" />
<line x1="16.70" y1="315.50" x2="37.90" y2="315.50" stroke="#3c3c3c" stroke-width="0.6" />
<line x1="16.70" y1="180.00" x2="16.70" y2="315.80" stroke="#3c3c3c" stroke-width="0.65" />
<line x1="27.35" y1="180.00" x2="27.35" y2="315.80" stroke="#3c3c3c" stroke-width="0.65" />
<line x1="37.90" y1="180.00" x2="37.90" y2="315.80" stroke="#3c3c3c" stroke-width="0.65" />
<text x="42.90" y="185.54" font-size="7.3" fill="#1a1a1a" stroke="#1a1a1a" stroke-width="0.120" textLength="19.97" lengthAdjust="spacingAndGlyphs" >Pcna</text>
<text x="42.90" y="193.99" font-size="7.3" fill="#1a1a1a" stroke="#1a1a1a" stroke-width="0.120" textLength="22.40" lengthAdjust="spacingAndGlyphs" >Pole2</text>
<text x="42.90" y="202.44" font-size="7.3" fill="#1a1a1a" stroke="#1a1a1a" stroke-width="0.120" textLength="18.01" lengthAdjust="spacingAndGlyphs" >Rfc5</text>
<text x="42.90" y="210.89" font-size="7.3" fill="#1a1a1a" stroke="#1a1a1a" stroke-width="0.120" textLength="17.53" lengthAdjust="spacingAndGlyphs" >Pole</text>
<text x="42.90" y="219.34" font-size="7.3" fill="#1a1a1a" stroke="#1a1a1a" stroke-width="0.120" textLength="18.01" lengthAdjust="spacingAndGlyphs" >Rfc4</text>
<text x="42.90" y="227.79" font-size="7.3" fill="#1a1a1a" stroke="#1a1a1a" stroke-width="0.120" textLength="16.56" lengthAdjust="spacingAndGlyphs" >Lig1</text>
<text x="42.90" y="236.24" font-size="7.3" fill="#1a1a1a" stroke="#1a1a1a" stroke-width="0.120" textLength="22.40" lengthAdjust="spacingAndGlyphs" >Pold3</text>
<text x="42.90" y="244.69" font-size="7.3" fill="#1a1a1a" stroke="#1a1a1a" stroke-width="0.120" textLength="20.94" lengthAdjust="spacingAndGlyphs" >Rpa3</text>
<text x="42.90" y="253.14" font-size="7.3" fill="#1a1a1a" stroke="#1a1a1a" stroke-width="0.120" textLength="20.94" lengthAdjust="spacingAndGlyphs" >Rpa2</text>
<text x="42.90" y="261.59" font-size="7.3" fill="#1a1a1a" stroke="#1a1a1a" stroke-width="0.120" textLength="22.40" lengthAdjust="spacingAndGlyphs" >Pold1</text>
<text x="42.90" y="270.04" font-size="7.3" fill="#1a1a1a" stroke="#1a1a1a" stroke-width="0.120" textLength="22.40" lengthAdjust="spacingAndGlyphs" >Pold2</text>
<text x="42.90" y="278.49" font-size="7.3" fill="#1a1a1a" stroke="#1a1a1a" stroke-width="0.120" textLength="18.01" lengthAdjust="spacingAndGlyphs" >Rfc1</text>
<text x="42.90" y="286.94" font-size="7.3" fill="#1a1a1a" stroke="#1a1a1a" stroke-width="0.120" textLength="22.39" lengthAdjust="spacingAndGlyphs" >Ercc5</text>
<text x="42.90" y="295.39" font-size="7.3" fill="#1a1a1a" stroke="#1a1a1a" stroke-width="0.120" textLength="15.59" lengthAdjust="spacingAndGlyphs" >Xpa</text>
<text x="42.90" y="303.84" font-size="7.3" fill="#1a1a1a" stroke="#1a1a1a" stroke-width="0.120" textLength="22.40" lengthAdjust="spacingAndGlyphs" >Pold4</text>
<text x="42.90" y="312.29" font-size="7.3" fill="#1a1a1a" stroke="#1a1a1a" stroke-width="0.120" textLength="22.40" lengthAdjust="spacingAndGlyphs" >Pole4</text>
<rect x="91.60" y="180.40" width="9.70" height="8.64" fill="#c64ff8" />
<rect x="101.30" y="180.40" width="9.70" height="8.64" fill="#e8e47a" />
<rect x="91.60" y="189.04" width="9.70" height="8.64" fill="#c64ff8" />
<rect x="101.30" y="189.04" width="9.70" height="8.64" fill="#e8e47a" />
<rect x="91.60" y="197.68" width="9.70" height="8.64" fill="#c64ff8" />
<rect x="101.30" y="197.68" width="9.70" height="8.64" fill="#e8e47a" />
<rect x="91.60" y="206.32" width="9.70" height="8.64" fill="#c64ff8" />
<rect x="101.30" y="206.32" width="9.70" height="8.64" fill="#e8e47a" />
<rect x="91.60" y="214.96" width="9.70" height="8.64" fill="#c64ff8" />
<rect x="101.30" y="214.96" width="9.70" height="8.64" fill="#e8e47a" />
<rect x="91.60" y="223.60" width="9.70" height="8.64" fill="#e8e47a" />
<rect x="101.30" y="223.60" width="9.70" height="8.64" fill="#c64ff8" />
<rect x="91.60" y="232.24" width="9.70" height="8.64" fill="#e8e47a" />
<rect x="101.30" y="232.24" width="9.70" height="8.64" fill="#c64ff8" />
<rect x="91.60" y="240.88" width="9.70" height="8.64" fill="#e8e47a" />
<rect x="101.30" y="240.88" width="9.70" height="8.64" fill="#c64ff8" />
<line x1="91.60" y1="180.40" x2="111.00" y2="180.40" stroke="#3c3c3c" stroke-width="0.6" />
<line x1="91.60" y1="189.04" x2="111.00" y2="189.04" stroke="#3c3c3c" stroke-width="0.6" />
<line x1="91.60" y1="197.68" x2="111.00" y2="197.68" stroke="#3c3c3c" stroke-width="0.6" />
<line x1="91.60" y1="206.32" x2="111.00" y2="206.32" stroke="#3c3c3c" stroke-width="0.6" />
<line x1="91.60" y1="214.96" x2="111.00" y2="214.96" stroke="#3c3c3c" stroke-width="0.6" />
<line x1="91.60" y1="223.60" x2="111.00" y2="223.60" stroke="#3c3c3c" stroke-width="0.6" />
<line x1="91.60" y1="232.24" x2="111.00" y2="232.24" stroke="#3c3c3c" stroke-width="0.6" />
<line x1="91.60" y1="240.88" x2="111.00" y2="240.88" stroke="#3c3c3c" stroke-width="0.6" />
<line x1="91.60" y1="249.52" x2="111.00" y2="249.52" stroke="#3c3c3c" stroke-width="0.6" />
<line x1="91.60" y1="180.10" x2="91.60" y2="249.82" stroke="#3c3c3c" stroke-width="0.65" />
<line x1="101.30" y1="180.10" x2="101.30" y2="249.82" stroke="#3c3c3c" stroke-width="0.65" />
<line x1="111.00" y1="180.10" x2="111.00" y2="249.82" stroke="#3c3c3c" stroke-width="0.65" />
<text x="115.50" y="185.76" font-size="7.3" fill="#1a1a1a" stroke="#1a1a1a" stroke-width="0.120" textLength="19.96" lengthAdjust="spacingAndGlyphs" >Fen1</text>
<text x="115.50" y="194.40" font-size="7.3" fill="#1a1a1a" stroke="#1a1a1a" stroke-width="0.120" textLength="22.40" lengthAdjust="spacingAndGlyphs" >Pole3</text>
<text x="115.50" y="203.04" font-size="7.3" fill="#1a1a1a" stroke="#1a1a1a" stroke-width="0.120" textLength="16.07" lengthAdjust="spacingAndGlyphs" >Ung</text>
<text x="115.50" y="211.68" font-size="7.3" fill="#1a1a1a" stroke="#1a1a1a" stroke-width="0.120" textLength="24.84" lengthAdjust="spacingAndGlyphs" >Apex2</text>
<text x="115.50" y="220.32" font-size="7.3" fill="#1a1a1a" stroke="#1a1a1a" stroke-width="0.120" textLength="24.84" lengthAdjust="spacingAndGlyphs" >Apex1</text>
<text x="115.50" y="228.96" font-size="7.3" fill="#1a1a1a" stroke="#1a1a1a" stroke-width="0.120" textLength="21.91" lengthAdjust="spacingAndGlyphs" >Mbd4</text>
<text x="115.50" y="237.60" font-size="7.3" fill="#1a1a1a" stroke="#1a1a1a" stroke-width="0.120" textLength="19.96" lengthAdjust="spacingAndGlyphs" >Neil2</text>
<text x="115.50" y="246.24" font-size="7.3" fill="#1a1a1a" stroke="#1a1a1a" stroke-width="0.120" textLength="23.37" lengthAdjust="spacingAndGlyphs" >Parp4</text>
<rect x="91.60" y="254.90" width="9.70" height="8.90" fill="#c64ff8" />
<rect x="101.30" y="254.90" width="9.70" height="8.90" fill="#e8e47a" />
<rect x="91.60" y="263.80" width="9.70" height="8.90" fill="#c64ff8" />
<rect x="101.30" y="263.80" width="9.70" height="8.90" fill="#e8e47a" />
<rect x="91.60" y="272.70" width="9.70" height="8.90" fill="#c64ff8" />
<rect x="101.30" y="272.70" width="9.70" height="8.90" fill="#e8e47a" />
<rect x="91.60" y="281.60" width="9.70" height="8.90" fill="#c64ff8" />
<rect x="101.30" y="281.60" width="9.70" height="8.90" fill="#e8e47a" />
<line x1="91.60" y1="254.90" x2="111.00" y2="254.90" stroke="#3c3c3c" stroke-width="0.6" />
<line x1="91.60" y1="263.80" x2="111.00" y2="263.80" stroke="#3c3c3c" stroke-width="0.6" />
<line x1="91.60" y1="272.70" x2="111.00" y2="272.70" stroke="#3c3c3c" stroke-width="0.6" />
<line x1="91.60" y1="281.60" x2="111.00" y2="281.60" stroke="#3c3c3c" stroke-width="0.6" />
<line x1="91.60" y1="290.50" x2="111.00" y2="290.50" stroke="#3c3c3c" stroke-width="0.6" />
<line x1="91.60" y1="254.60" x2="91.60" y2="290.80" stroke="#3c3c3c" stroke-width="0.65" />
<line x1="101.30" y1="254.60" x2="101.30" y2="290.80" stroke="#3c3c3c" stroke-width="0.65" />
<line x1="111.00" y1="254.60" x2="111.00" y2="290.80" stroke="#3c3c3c" stroke-width="0.65" />
<text x="115.50" y="260.42" font-size="7.3" fill="#1a1a1a" stroke="#1a1a1a" stroke-width="0.120" textLength="18.01" lengthAdjust="spacingAndGlyphs" >Rfc5</text>
<text x="115.50" y="269.32" font-size="7.3" fill="#1a1a1a" stroke="#1a1a1a" stroke-width="0.120" textLength="18.01" lengthAdjust="spacingAndGlyphs" >Rfc2</text>
<text x="115.50" y="278.22" font-size="7.3" fill="#1a1a1a" stroke="#1a1a1a" stroke-width="0.120" textLength="19.97" lengthAdjust="spacingAndGlyphs" >Exo1</text>
<text x="115.50" y="287.12" font-size="7.3" fill="#1a1a1a" stroke="#1a1a1a" stroke-width="0.120" textLength="21.42" lengthAdjust="spacingAndGlyphs" >Msh2</text>
<rect x="162.40" y="179.10" width="8.30" height="6.70" fill="#c64ff8" />
<rect x="170.70" y="179.10" width="8.30" height="6.70" fill="#e8e47a" />
<rect x="162.40" y="185.80" width="8.30" height="6.70" fill="#c64ff8" />
<rect x="170.70" y="185.80" width="8.30" height="6.70" fill="#e8e47a" />
<rect x="162.40" y="192.50" width="8.30" height="6.70" fill="#c64ff8" />
<rect x="170.70" y="192.50" width="8.30" height="6.70" fill="#e8e47a" />
<rect x="162.40" y="199.20" width="8.30" height="6.70" fill="#e8e47a" />
<rect x="170.70" y="199.20" width="8.30" height="6.70" fill="#c64ff8" />
<rect x="162.40" y="205.90" width="8.30" height="6.70" fill="#c64ff8" />
<rect x="170.70" y="205.90" width="8.30" height="6.70" fill="#e8e47a" />
<rect x="162.40" y="212.60" width="8.30" height="6.70" fill="#c64ff8" />
<rect x="170.70" y="212.60" width="8.30" height="6.70" fill="#e8e47a" />
<rect x="162.40" y="219.30" width="8.30" height="6.70" fill="#c64ff8" />
<rect x="170.70" y="219.30" width="8.30" height="6.70" fill="#e8e47a" />
<rect x="162.40" y="226.00" width="8.30" height="6.70" fill="#c64ff8" />
<rect x="170.70" y="226.00" width="8.30" height="6.70" fill="#e8e47a" />
<rect x="162.40" y="232.70" width="8.30" height="6.70" fill="#e8e47a" />
<rect x="170.70" y="232.70" width="8.30" height="6.70" fill="#c64ff8" />
<rect x="162.40" y="239.40" width="8.30" height="6.70" fill="#c64ff8" />
<rect x="170.70" y="239.40" width="8.30" height="6.70" fill="#e8e47a" />
<rect x="162.40" y="246.10" width="8.30" height="6.70" fill="#c64ff8" />
<rect x="170.70" y="246.10" width="8.30" height="6.70" fill="#e8e47a" />
<rect x="162.40" y="252.80" width="8.30" height="6.70" fill="#c64ff8" />
<rect x="170.70" y="252.80" width="8.30" height="6.70" fill="#e8e47a" />
<rect x="162.40" y="259.50" width="8.30" height="6.70" fill="#c64ff8" />
<rect x="170.70" y="259.50" width="8.30" height="6.70" fill="#e8e47a" />
<rect x="162.40" y="266.20" width="8.30" height="6.70" fill="#c64ff8" />
<rect x="170.70" y="266.20" width="8.30" height="6.70" fill="#e8e47a" />
<rect x="162.40" y="272.90" width="8.30" height="6.70" fill="#c64ff8" />
<rect x="170.70" y="272.90" width="8.30" height="6.70" fill="#e8e47a" />
<rect x="162.40" y="279.60" width="8.30" height="6.70" fill="#c64ff8" />
<rect x="170.70" y="279.60" width="8.30" height="6.70" fill="#e8e47a" />
<rect x="162.40" y="286.30" width="8.30" height="6.70" fill="#c64ff8" />
<rect x="170.70" y="286.30" width="8.30" height="6.70" fill="#e8e47a" />
<rect x="162.40" y="293.00" width="8.30" height="6.70" fill="#c64ff8" />
<rect x="170.70" y="293.00" width="8.30" height="6.70" fill="#e8e47a" />
<rect x="162.40" y="299.70" width="8.30" height="6.70" fill="#c64ff8" />
<rect x="170.70" y="299.70" width="8.30" height="6.70" fill="#e8e47a" />
<rect x="162.40" y="306.40" width="8.30" height="6.70" fill="#c64ff8" />
<rect x="170.70" y="306.40" width="8.30" height="6.70" fill="#e8e47a" />
<rect x="162.40" y="313.10" width="8.30" height="6.70" fill="#e8e47a" />
<rect x="170.70" y="313.10" width="8.30" height="6.70" fill="#c64ff8" />
<rect x="162.40" y="319.80" width="8.30" height="6.70" fill="#c64ff8" />
<rect x="170.70" y="319.80" width="8.30" height="6.70" fill="#e8e47a" />
<rect x="162.40" y="326.50" width="8.30" height="6.70" fill="#c64ff8" />
<rect x="170.70" y="326.50" width="8.30" height="6.70" fill="#e8e47a" />
<rect x="162.40" y="333.20" width="8.30" height="6.70" fill="#e8e47a" />
<rect x="170.70" y="333.20" width="8.30" height="6.70" fill="#c64ff8" />
<rect x="162.40" y="339.90" width="8.30" height="6.70" fill="#c64ff8" />
<rect x="170.70" y="339.90" width="8.30" height="6.70" fill="#e8e47a" />
<rect x="162.40" y="346.60" width="8.30" height="6.70" fill="#c64ff8" />
<rect x="170.70" y="346.60" width="8.30" height="6.70" fill="#e8e47a" />
<rect x="162.40" y="353.30" width="8.30" height="6.70" fill="#c64ff8" />
<rect x="170.70" y="353.30" width="8.30" height="6.70" fill="#e8e47a" />
<rect x="162.40" y="360.00" width="8.30" height="6.70" fill="#c64ff8" />
<rect x="170.70" y="360.00" width="8.30" height="6.70" fill="#e8e47a" />
<rect x="162.40" y="366.70" width="8.30" height="6.70" fill="#e8e47a" />
<rect x="170.70" y="366.70" width="8.30" height="6.70" fill="#c64ff8" />
<rect x="162.40" y="373.40" width="8.30" height="6.70" fill="#c64ff8" />
<rect x="170.70" y="373.40" width="8.30" height="6.70" fill="#e8e47a" />
<rect x="162.40" y="380.10" width="8.30" height="6.70" fill="#e8e47a" />
<rect x="170.70" y="380.10" width="8.30" height="6.70" fill="#c64ff8" />
<rect x="162.40" y="386.80" width="8.30" height="6.70" fill="#e8e47a" />
<rect x="170.70" y="386.80" width="8.30" height="6.70" fill="#c64ff8" />
<line x1="162.40" y1="179.10" x2="179.00" y2="179.10" stroke="#3c3c3c" stroke-width="0.6" />
<line x1="162.40" y1="185.80" x2="179.00" y2="185.80" stroke="#3c3c3c" stroke-width="0.6" />
<line x1="162.40" y1="192.50" x2="179.00" y2="192.50" stroke="#3c3c3c" stroke-width="0.6" />
<line x1="162.40" y1="199.20" x2="179.00" y2="199.20" stroke="#3c3c3c" stroke-width="0.6" />
<line x1="162.40" y1="205.90" x2="179.00" y2="205.90" stroke="#3c3c3c" stroke-width="0.6" />
<line x1="162.40" y1="212.60" x2="179.00" y2="212.60" stroke="#3c3c3c" stroke-width="0.6" />
<line x1="162.40" y1="219.30" x2="179.00" y2="219.30" stroke="#3c3c3c" stroke-width="0.6" />
<line x1="162.40" y1="226.00" x2="179.00" y2="226.00" stroke="#3c3c3c" stroke-width="0.6" />
<line x1="162.40" y1="232.70" x2="179.00" y2="232.70" stroke="#3c3c3c" stroke-width="0.6" />
<line x1="162.40" y1="239.40" x2="179.00" y2="239.40" stroke="#3c3c3c" stroke-width="0.6" />
<line x1="162.40" y1="246.10" x2="179.00" y2="246.10" stroke="#3c3c3c" stroke-width="0.6" />
<line x1="162.40" y1="252.80" x2="179.00" y2="252.80" stroke="#3c3c3c" stroke-width="0.6" />
<line x1="162.40" y1="259.50" x2="179.00" y2="259.50" stroke="#3c3c3c" stroke-width="0.6" />
<line x1="162.40" y1="266.20" x2="179.00" y2="266.20" stroke="#3c3c3c" stroke-width="0.6" />
<line x1="162.40" y1="272.90" x2="179.00" y2="272.90" stroke="#3c3c3c" stroke-width="0.6" />
<line x1="162.40" y1="279.60" x2="179.00" y2="279.60" stroke="#3c3c3c" stroke-width="0.6" />
<line x1="162.40" y1="286.30" x2="179.00" y2="286.30" stroke="#3c3c3c" stroke-width="0.6" />
<line x1="162.40" y1="293.00" x2="179.00" y2="293.00" stroke="#3c3c3c" stroke-width="0.6" />
<line x1="162.40" y1="299.70" x2="179.00" y2="299.70" stroke="#3c3c3c" stroke-width="0.6" />
<line x1="162.40" y1="306.40" x2="179.00" y2="306.40" stroke="#3c3c3c" stroke-width="0.6" />
<line x1="162.40" y1="313.10" x2="179.00" y2="313.10" stroke="#3c3c3c" stroke-width="0.6" />
<line x1="162.40" y1="319.80" x2="179.00" y2="319.80" stroke="#3c3c3c" stroke-width="0.6" />
<line x1="162.40" y1="326.50" x2="179.00" y2="326.50" stroke="#3c3c3c" stroke-width="0.6" />
<line x1="162.40" y1="333.20" x2="179.00" y2="333.20" stroke="#3c3c3c" stroke-width="0.6" />
<line x1="162.40" y1="339.90" x2="179.00" y2="339.90" stroke="#3c3c3c" stroke-width="0.6" />
<line x1="162.40" y1="346.60" x2="179.00" y2="346.60" stroke="#3c3c3c" stroke-width="0.6" />
<line x1="162.40" y1="353.30" x2="179.00" y2="353.30" stroke="#3c3c3c" stroke-width="0.6" />
<line x1="162.40" y1="360.00" x2="179.00" y2="360.00" stroke="#3c3c3c" stroke-width="0.6" />
<line x1="162.40" y1="366.70" x2="179.00" y2="366.70" stroke="#3c3c3c" stroke-width="0.6" />
<line x1="162.40" y1="373.40" x2="179.00" y2="373.40" stroke="#3c3c3c" stroke-width="0.6" />
<line x1="162.40" y1="380.10" x2="179.00" y2="380.10" stroke="#3c3c3c" stroke-width="0.6" />
<line x1="162.40" y1="386.80" x2="179.00" y2="386.80" stroke="#3c3c3c" stroke-width="0.6" />
<line x1="162.40" y1="393.50" x2="179.00" y2="393.50" stroke="#3c3c3c" stroke-width="0.6" />
<line x1="162.40" y1="178.80" x2="162.40" y2="393.80" stroke="#3c3c3c" stroke-width="0.65" />
<line x1="170.70" y1="178.80" x2="170.70" y2="393.80" stroke="#3c3c3c" stroke-width="0.65" />
<line x1="179.00" y1="178.80" x2="179.00" y2="393.80" stroke="#3c3c3c" stroke-width="0.65" />
<text x="183.20" y="183.52" font-size="6.1" fill="#1a1a1a" stroke="#1a1a1a" stroke-width="0.120" textLength="18.93" lengthAdjust="spacingAndGlyphs" >Mcm5</text>
<text x="183.20" y="190.22" font-size="6.1" fill="#1a1a1a" stroke="#1a1a1a" stroke-width="0.120" textLength="18.93" lengthAdjust="spacingAndGlyphs" >Mcm2</text>
<text x="183.20" y="196.92" font-size="6.1" fill="#1a1a1a" stroke="#1a1a1a" stroke-width="0.120" textLength="18.93" lengthAdjust="spacingAndGlyphs" >Mcm4</text>
<text x="183.20" y="203.62" font-size="6.1" fill="#1a1a1a" stroke="#1a1a1a" stroke-width="0.120" textLength="18.93" lengthAdjust="spacingAndGlyphs" >Mcm6</text>
<text x="183.20" y="210.32" font-size="6.1" fill="#1a1a1a" stroke="#1a1a1a" stroke-width="0.120" textLength="18.93" lengthAdjust="spacingAndGlyphs" >Mcm3</text>
<text x="183.20" y="217.02" font-size="6.1" fill="#1a1a1a" stroke="#1a1a1a" stroke-width="0.120" textLength="20.10" lengthAdjust="spacingAndGlyphs" >Ccne2</text>
<text x="183.20" y="223.72" font-size="6.1" fill="#1a1a1a" stroke="#1a1a1a" stroke-width="0.120" textLength="20.10" lengthAdjust="spacingAndGlyphs" >Chek1</text>
<text x="183.20" y="230.42" font-size="6.1" fill="#1a1a1a" stroke="#1a1a1a" stroke-width="0.120" textLength="28.61" lengthAdjust="spacingAndGlyphs" >Gadd45b</text>
<text x="183.20" y="237.12" font-size="6.1" fill="#1a1a1a" stroke="#1a1a1a" stroke-width="0.120" textLength="20.10" lengthAdjust="spacingAndGlyphs" >Cdc45</text>
<text x="183.20" y="243.82" font-size="6.1" fill="#1a1a1a" stroke="#1a1a1a" stroke-width="0.120" textLength="15.07" lengthAdjust="spacingAndGlyphs" >Orc6</text>
<text x="183.20" y="250.52" font-size="6.1" fill="#1a1a1a" stroke="#1a1a1a" stroke-width="0.120" textLength="23.58" lengthAdjust="spacingAndGlyphs" >Anapc5</text>
<text x="183.20" y="257.22" font-size="6.1" fill="#1a1a1a" stroke="#1a1a1a" stroke-width="0.120" textLength="23.58" lengthAdjust="spacingAndGlyphs" >Cdkn2c</text>
<text x="183.20" y="263.92" font-size="6.1" fill="#1a1a1a" stroke="#1a1a1a" stroke-width="0.120" textLength="22.81" lengthAdjust="spacingAndGlyphs" >Mad1l1</text>
<text x="183.20" y="270.62" font-size="6.1" fill="#1a1a1a" stroke="#1a1a1a" stroke-width="0.120" textLength="16.23" lengthAdjust="spacingAndGlyphs" >Cdk4</text>
<text x="183.20" y="277.32" font-size="6.1" fill="#1a1a1a" stroke="#1a1a1a" stroke-width="0.120" textLength="17.91" lengthAdjust="spacingAndGlyphs" >Trp53</text>
<text x="183.20" y="284.02" font-size="6.1" fill="#1a1a1a" stroke="#1a1a1a" stroke-width="0.120" textLength="22.81" lengthAdjust="spacingAndGlyphs" >Mad2l1</text>
<text x="183.20" y="290.72" font-size="6.1" fill="#1a1a1a" stroke="#1a1a1a" stroke-width="0.120" textLength="16.23" lengthAdjust="spacingAndGlyphs" >Cdk6</text>
<text x="183.20" y="297.42" font-size="6.1" fill="#1a1a1a" stroke="#1a1a1a" stroke-width="0.120" textLength="16.23" lengthAdjust="spacingAndGlyphs" >Cdk1</text>
<text x="183.20" y="304.12" font-size="6.1" fill="#1a1a1a" stroke="#1a1a1a" stroke-width="0.120" textLength="17.00" lengthAdjust="spacingAndGlyphs" >Rrm2</text>
<text x="183.20" y="310.82" font-size="6.1" fill="#1a1a1a" stroke="#1a1a1a" stroke-width="0.120" textLength="27.83" lengthAdjust="spacingAndGlyphs" >Serpine1</text>
<text x="183.20" y="317.52" font-size="6.1" fill="#1a1a1a" stroke="#1a1a1a" stroke-width="0.120" textLength="27.83" lengthAdjust="spacingAndGlyphs" >Serpinb5</text>
<text x="183.20" y="324.22" font-size="6.1" fill="#1a1a1a" stroke="#1a1a1a" stroke-width="0.120" textLength="17.78" lengthAdjust="spacingAndGlyphs" >Aifm2</text>
<text x="183.20" y="330.92" font-size="6.1" fill="#1a1a1a" stroke="#1a1a1a" stroke-width="0.120" textLength="19.32" lengthAdjust="spacingAndGlyphs" >Mdm4</text>
<text x="183.20" y="337.62" font-size="6.1" fill="#1a1a1a" stroke="#1a1a1a" stroke-width="0.120" textLength="15.85" lengthAdjust="spacingAndGlyphs" >Bbc3</text>
<text x="183.20" y="344.32" font-size="6.1" fill="#1a1a1a" stroke="#1a1a1a" stroke-width="0.120" textLength="19.33" lengthAdjust="spacingAndGlyphs" >Eif2s1</text>
<text x="183.20" y="351.02" font-size="6.1" fill="#1a1a1a" stroke="#1a1a1a" stroke-width="0.120" textLength="24.74" lengthAdjust="spacingAndGlyphs" >Mapk10</text>
<text x="183.20" y="357.72" font-size="6.1" fill="#1a1a1a" stroke="#1a1a1a" stroke-width="0.120" textLength="25.50" lengthAdjust="spacingAndGlyphs" >Tnfrsf1a</text>
<text x="183.20" y="364.42" font-size="6.1" fill="#1a1a1a" stroke="#1a1a1a" stroke-width="0.120" textLength="14.30" lengthAdjust="spacingAndGlyphs" >Ctsh</text>
<text x="183.20" y="371.12" font-size="6.1" fill="#1a1a1a" stroke="#1a1a1a" stroke-width="0.120" textLength="25.13" lengthAdjust="spacingAndGlyphs" >Bcl2a1d</text>
<text x="183.20" y="377.82" font-size="6.1" fill="#1a1a1a" stroke="#1a1a1a" stroke-width="0.120" textLength="23.33" lengthAdjust="spacingAndGlyphs" >Tuba1b</text>
<text x="183.20" y="384.52" font-size="6.1" fill="#1a1a1a" stroke="#1a1a1a" stroke-width="0.120" textLength="19.71" lengthAdjust="spacingAndGlyphs" >Diablo</text>
<text x="183.20" y="391.22" font-size="6.1" fill="#1a1a1a" stroke="#1a1a1a" stroke-width="0.120" textLength="25.13" lengthAdjust="spacingAndGlyphs" >Bcl2a1b</text>
<rect x="234.40" y="181.80" width="8.20" height="6.99" fill="#e8e47a" />
<rect x="242.60" y="181.80" width="8.40" height="6.99" fill="#c64ff8" />
<rect x="234.40" y="188.79" width="8.20" height="6.99" fill="#e8e47a" />
<rect x="242.60" y="188.79" width="8.40" height="6.99" fill="#c64ff8" />
<rect x="234.40" y="195.78" width="8.20" height="6.99" fill="#c64ff8" />
<rect x="242.60" y="195.78" width="8.40" height="6.99" fill="#e8e47a" />
<rect x="234.40" y="202.77" width="8.20" height="6.99" fill="#c64ff8" />
<rect x="242.60" y="202.77" width="8.40" height="6.99" fill="#e8e47a" />
<rect x="234.40" y="209.76" width="8.20" height="6.99" fill="#e8e47a" />
<rect x="242.60" y="209.76" width="8.40" height="6.99" fill="#c64ff8" />
<rect x="234.40" y="216.75" width="8.20" height="6.99" fill="#c64ff8" />
<rect x="242.60" y="216.75" width="8.40" height="6.99" fill="#e8e47a" />
<rect x="234.40" y="223.74" width="8.20" height="6.99" fill="#c64ff8" />
<rect x="242.60" y="223.74" width="8.40" height="6.99" fill="#e8e47a" />
<rect x="234.40" y="230.73" width="8.20" height="6.99" fill="#e8e47a" />
<rect x="242.60" y="230.73" width="8.40" height="6.99" fill="#c64ff8" />
<rect x="234.40" y="237.72" width="8.20" height="6.99" fill="#e8e47a" />
<rect x="242.60" y="237.72" width="8.40" height="6.99" fill="#c64ff8" />
<rect x="234.40" y="244.71" width="8.20" height="6.99" fill="#c64ff8" />
<rect x="242.60" y="244.71" width="8.40" height="6.99" fill="#e8e47a" />
<rect x="234.40" y="251.70" width="8.20" height="6.99" fill="#c64ff8" />
<rect x="242.60" y="251.70" width="8.40" height="6.99" fill="#e8e47a" />
<rect x="234.40" y="258.69" width="8.20" height="6.99" fill="#c64ff8" />
<rect x="242.60" y="258.69" width="8.40" height="6.99" fill="#e8e47a" />
<rect x="234.40" y="265.68" width="8.20" height="6.99" fill="#e8e47a" />
<rect x="242.60" y="265.68" width="8.40" height="6.99" fill="#c64ff8" />
<rect x="234.40" y="272.67" width="8.20" height="6.99" fill="#c64ff8" />
<rect x="242.60" y="272.67" width="8.40" height="6.99" fill="#e8e47a" />
<rect x="234.40" y="279.66" width="8.20" height="6.99" fill="#c64ff8" />
<rect x="242.60" y="279.66" width="8.40" height="6.99" fill="#e8e47a" />
<rect x="234.40" y="286.65" width="8.20" height="6.99" fill="#e8e47a" />
<rect x="242.60" y="286.65" width="8.40" height="6.99" fill="#c64ff8" />
<rect x="234.40" y="293.64" width="8.20" height="6.99" fill="#e8e47a" />
<rect x="242.60" y="293.64" width="8.40" height="6.99" fill="#c64ff8" />
<rect x="234.40" y="300.63" width="8.20" height="6.99" fill="#c64ff8" />
<rect x="242.60" y="300.63" width="8.40" height="6.99" fill="#e8e47a" />
<rect x="234.40" y="307.62" width="8.20" height="6.99" fill="#c64ff8" />
<rect x="242.60" y="307.62" width="8.40" height="6.99" fill="#e8e47a" />
<rect x="234.40" y="314.61" width="8.20" height="6.99" fill="#e8e47a" />
<rect x="242.60" y="314.61" width="8.40" height="6.99" fill="#c64ff8" />
<rect x="234.40" y="321.60" width="8.20" height="6.99" fill="#c64ff8" />
<rect x="242.60" y="321.60" width="8.40" height="6.99" fill="#e8e47a" />
<rect x="234.40" y="328.59" width="8.20" height="6.99" fill="#c64ff8" />
<rect x="242.60" y="328.59" width="8.40" height="6.99" fill="#e8e47a" />
<rect x="234.40" y="335.58" width="8.20" height="6.99" fill="#c64ff8" />
<rect x="242.60" y="335.58" width="8.40" height="6.99" fill="#e8e47a" />
<rect x="234.40" y="342.57" width="8.20" height="6.99" fill="#c64ff8" />
<rect x="242.60" y="342.57" width="8.40" height="6.99" fill="#e8e47a" />
<rect x="234.40" y="349.56" width="8.20" height="6.99" fill="#e8e47a" />
<rect x="242.60" y="349.56" width="8.40" height="6.99" fill="#c64ff8" />
<line x1="234.40" y1="181.80" x2="251.00" y2="181.80" stroke="#3c3c3c" stroke-width="0.6" />
<line x1="234.40" y1="188.79" x2="251.00" y2="188.79" stroke="#3c3c3c" stroke-width="0.6" />
<line x1="234.40" y1="195.78" x2="251.00" y2="195.78" stroke="#3c3c3c" stroke-width="0.6" />
<line x1="234.40" y1="202.77" x2="251.00" y2="202.77" stroke="#3c3c3c" stroke-width="0.6" />
<line x1="234.40" y1="209.76" x2="251.00" y2="209.76" stroke="#3c3c3c" stroke-width="0.6" />
<line x1="234.40" y1="216.75" x2="251.00" y2="216.75" stroke="#3c3c3c" stroke-width="0.6" />
<line x1="234.40" y1="223.74" x2="251.00" y2="223.74" stroke="#3c3c3c" stroke-width="0.6" />
<line x1="234.40" y1="230.73" x2="251.00" y2="230.73" stroke="#3c3c3c" stroke-width="0.6" />
<line x1="234.40" y1="237.72" x2="251.00" y2="237.72" stroke="#3c3c3c" stroke-width="0.6" />
<line x1="234.40" y1="244.71" x2="251.00" y2="244.71" stroke="#3c3c3c" stroke-width="0.6" />
<line x1="234.40" y1="251.70" x2="251.00" y2="251.70" stroke="#3c3c3c" stroke-width="0.6" />
<line x1="234.40" y1="258.69" x2="251.00" y2="258.69" stroke="#3c3c3c" stroke-width="0.6" />
<line x1="234.40" y1="265.68" x2="251.00" y2="265.68" stroke="#3c3c3c" stroke-width="0.6" />
<line x1="234.40" y1="272.67" x2="251.00" y2="272.67" stroke="#3c3c3c" stroke-width="0.6" />
<line x1="234.40" y1="279.66" x2="251.00" y2="279.66" stroke="#3c3c3c" stroke-width="0.6" />
<line x1="234.40" y1="286.65" x2="251.00" y2="286.65" stroke="#3c3c3c" stroke-width="0.6" />
<line x1="234.40" y1="293.64" x2="251.00" y2="293.64" stroke="#3c3c3c" stroke-width="0.6" />
<line x1="234.40" y1="300.63" x2="251.00" y2="300.63" stroke="#3c3c3c" stroke-width="0.6" />
<line x1="234.40" y1="307.62" x2="251.00" y2="307.62" stroke="#3c3c3c" stroke-width="0.6" />
<line x1="234.40" y1="314.61" x2="251.00" y2="314.61" stroke="#3c3c3c" stroke-width="0.6" />
<line x1="234.40" y1="321.60" x2="251.00" y2="321.60" stroke="#3c3c3c" stroke-width="0.6" />
<line x1="234.40" y1="328.59" x2="251.00" y2="328.59" stroke="#3c3c3c" stroke-width="0.6" />
<line x1="234.40" y1="335.58" x2="251.00" y2="335.58" stroke="#3c3c3c" stroke-width="0.6" />
<line x1="234.40" y1="342.57" x2="251.00" y2="342.57" stroke="#3c3c3c" stroke-width="0.6" />
<line x1="234.40" y1="349.56" x2="251.00" y2="349.56" stroke="#3c3c3c" stroke-width="0.6" />
<line x1="234.40" y1="356.55" x2="251.00" y2="356.55" stroke="#3c3c3c" stroke-width="0.6" />
<line x1="234.40" y1="181.50" x2="234.40" y2="356.85" stroke="#3c3c3c" stroke-width="0.65" />
<line x1="242.60" y1="181.50" x2="242.60" y2="356.85" stroke="#3c3c3c" stroke-width="0.65" />
<line x1="251.00" y1="181.50" x2="251.00" y2="356.85" stroke="#3c3c3c" stroke-width="0.65" />
<text x="255.00" y="186.55" font-size="5.9" fill="#1a1a1a" stroke="#1a1a1a" stroke-width="0.120" textLength="21.32" lengthAdjust="spacingAndGlyphs" >Entpd1</text>
<text x="255.00" y="193.54" font-size="5.9" fill="#1a1a1a" stroke="#1a1a1a" stroke-width="0.120" textLength="16.07" lengthAdjust="spacingAndGlyphs" >Tyms</text>
<text x="255.00" y="200.53" font-size="5.9" fill="#1a1a1a" stroke="#1a1a1a" stroke-width="0.120" textLength="16.44" lengthAdjust="spacingAndGlyphs" >Rrm1</text>
<text x="255.00" y="207.52" font-size="5.9" fill="#1a1a1a" stroke="#1a1a1a" stroke-width="0.120" textLength="16.44" lengthAdjust="spacingAndGlyphs" >Rrm2</text>
<text x="255.00" y="214.51" font-size="5.9" fill="#1a1a1a" stroke="#1a1a1a" stroke-width="0.120" textLength="19.45" lengthAdjust="spacingAndGlyphs" >Enpp1</text>
<text x="255.00" y="221.50" font-size="5.9" fill="#1a1a1a" stroke="#1a1a1a" stroke-width="0.120" textLength="16.08" lengthAdjust="spacingAndGlyphs" >Upp1</text>
<text x="255.00" y="228.49" font-size="5.9" fill="#1a1a1a" stroke="#1a1a1a" stroke-width="0.120" textLength="12.71" lengthAdjust="spacingAndGlyphs" >Dhfr</text>
<text x="255.00" y="235.48" font-size="5.9" fill="#1a1a1a" stroke="#1a1a1a" stroke-width="0.120" textLength="17.20" lengthAdjust="spacingAndGlyphs" >Bcat1</text>
<text x="255.00" y="242.47" font-size="5.9" fill="#1a1a1a" stroke="#1a1a1a" stroke-width="0.120" textLength="18.31" lengthAdjust="spacingAndGlyphs" >Mgst2</text>
<text x="255.00" y="249.46" font-size="5.9" fill="#1a1a1a" stroke="#1a1a1a" stroke-width="0.120" textLength="17.95" lengthAdjust="spacingAndGlyphs" >Dgat1</text>
<text x="255.00" y="256.45" font-size="5.9" fill="#1a1a1a" stroke="#1a1a1a" stroke-width="0.120" textLength="13.09" lengthAdjust="spacingAndGlyphs" >Ido1</text>
<text x="255.00" y="263.44" font-size="5.9" fill="#1a1a1a" stroke="#1a1a1a" stroke-width="0.120" textLength="18.32" lengthAdjust="spacingAndGlyphs" >Inppl1</text>
<text x="255.00" y="270.43" font-size="5.9" fill="#1a1a1a" stroke="#1a1a1a" stroke-width="0.120" textLength="13.46" lengthAdjust="spacingAndGlyphs" >Fut4</text>
<text x="255.00" y="277.42" font-size="5.9" fill="#1a1a1a" stroke="#1a1a1a" stroke-width="0.120" textLength="17.95" lengthAdjust="spacingAndGlyphs" >Glud1</text>
<text x="255.00" y="284.41" font-size="5.9" fill="#1a1a1a" stroke="#1a1a1a" stroke-width="0.120" textLength="16.08" lengthAdjust="spacingAndGlyphs" >Naga</text>
<text x="255.00" y="291.40" font-size="5.9" fill="#1a1a1a" stroke="#1a1a1a" stroke-width="0.120" textLength="21.68" lengthAdjust="spacingAndGlyphs" >Carns1</text>
<text x="255.00" y="298.39" font-size="5.9" fill="#1a1a1a" stroke="#1a1a1a" stroke-width="0.120" textLength="19.45" lengthAdjust="spacingAndGlyphs" >Pde5a</text>
<text x="255.00" y="305.38" font-size="5.9" fill="#1a1a1a" stroke="#1a1a1a" stroke-width="0.120" textLength="10.84" lengthAdjust="spacingAndGlyphs" >Idi2</text>
<text x="255.00" y="312.37" font-size="5.9" fill="#1a1a1a" stroke="#1a1a1a" stroke-width="0.120" textLength="13.83" lengthAdjust="spacingAndGlyphs" >Galc</text>
<text x="255.00" y="319.36" font-size="5.9" fill="#1a1a1a" stroke="#1a1a1a" stroke-width="0.120" textLength="22.43" lengthAdjust="spacingAndGlyphs" >Papss2</text>
<text x="255.00" y="326.35" font-size="5.9" fill="#1a1a1a" stroke="#1a1a1a" stroke-width="0.120" textLength="16.45" lengthAdjust="spacingAndGlyphs" >Gad2</text>
<text x="255.00" y="333.34" font-size="5.9" fill="#1a1a1a" stroke="#1a1a1a" stroke-width="0.120" textLength="14.96" lengthAdjust="spacingAndGlyphs" >Ldha</text>
<text x="255.00" y="340.33" font-size="5.9" fill="#1a1a1a" stroke="#1a1a1a" stroke-width="0.120" textLength="24.68" lengthAdjust="spacingAndGlyphs" >Aldh5a1</text>
<text x="255.00" y="347.32" font-size="5.9" fill="#1a1a1a" stroke="#1a1a1a" stroke-width="0.120" textLength="17.94" lengthAdjust="spacingAndGlyphs" >Gcnt4</text>
<text x="255.00" y="354.31" font-size="5.9" fill="#1a1a1a" stroke="#1a1a1a" stroke-width="0.120" textLength="15.32" lengthAdjust="spacingAndGlyphs" >Pfkm</text>
<text x="0" y="0" font-size="8.0" fill="#222" textLength="8.90" lengthAdjust="spacingAndGlyphs" transform="translate(24.70 178.50) rotate(-90)">WT</text>
<text x="0" y="0" font-size="8.0" fill="#222" textLength="8.40" lengthAdjust="spacingAndGlyphs" transform="translate(35.80 178.50) rotate(-90)">KO</text>
<text x="0" y="0" font-size="8.0" fill="#222" textLength="9.10" lengthAdjust="spacingAndGlyphs" transform="translate(98.50 178.50) rotate(-90)">WT</text>
<text x="0" y="0" font-size="8.0" fill="#222" textLength="8.50" lengthAdjust="spacingAndGlyphs" transform="translate(109.60 178.50) rotate(-90)">KO</text>
<text x="0" y="0" font-size="5.9" fill="#222" textLength="8.90" lengthAdjust="spacingAndGlyphs" transform="translate(167.20 178.00) rotate(-90)">WT</text>
<text x="0" y="0" font-size="5.9" fill="#222" textLength="8.40" lengthAdjust="spacingAndGlyphs" transform="translate(176.50 178.00) rotate(-90)">KO</text>
<text x="0" y="0" font-size="6.4" fill="#222" textLength="10.00" lengthAdjust="spacingAndGlyphs" transform="translate(240.70 181.30) rotate(-90)">WT</text>
<text x="0" y="0" font-size="6.4" fill="#222" textLength="9.20" lengthAdjust="spacingAndGlyphs" transform="translate(249.30 181.30) rotate(-90)">KO</text>
<line x1="42.00" y1="290.30" x2="72.00" y2="290.30" stroke="#9a9a9a" stroke-width="0.55" />
<line x1="42.00" y1="315.90" x2="72.00" y2="315.90" stroke="#9a9a9a" stroke-width="0.55" />
<text x="0" y="0" font-size="5.1" fill="#eea95c" text-anchor="middle" stroke="#eea95c" stroke-width="0.100" textLength="68.90" lengthAdjust="spacingAndGlyphs" transform="translate(13.00 245.50) rotate(-90)">Nucleotide excision repair</text>
<text x="0" y="0" font-size="5.1" fill="#eea95c" text-anchor="middle" stroke="#eea95c" stroke-width="0.100" textLength="54.60" lengthAdjust="spacingAndGlyphs" transform="translate(88.00 211.80) rotate(-90)">Base excision repair</text>
<text x="0" y="0" font-size="5.1" fill="#eea95c" text-anchor="middle" stroke="#eea95c" stroke-width="0.100" textLength="41.50" lengthAdjust="spacingAndGlyphs" transform="translate(88.00 272.00) rotate(-90)">Mismatch repair</text>
<text x="0" y="0" font-size="5.1" fill="#eea95c" text-anchor="middle" stroke="#eea95c" stroke-width="0.100" textLength="147.00" lengthAdjust="spacingAndGlyphs" transform="translate(157.20 280.30) rotate(-90)">Cell cycle, p53 pathway, Cellular Senescence, Apoptosis</text>
<text x="0" y="0" font-size="5.1" fill="#eea95c" text-anchor="middle" stroke="#eea95c" stroke-width="0.100" textLength="52.10" lengthAdjust="spacingAndGlyphs" transform="translate(229.30 268.20) rotate(-90)">Metabolic pathways</text>
<rect x="38.00" y="327.20" width="88.10" height="6.10" fill="url(#zs)" stroke="#555" stroke-width="0.5" />
<text x="38.40" y="338.00" font-size="4.2" fill="#383838" stroke="#383838" stroke-width="0.160" text-anchor="middle" textLength="10.05" lengthAdjust="spacingAndGlyphs" >-2.00</text>
<text x="125.80" y="338.00" font-size="4.2" fill="#383838" stroke="#383838" stroke-width="0.160" text-anchor="middle" textLength="8.58" lengthAdjust="spacingAndGlyphs" >2.00</text>
<text x="82.10" y="343.60" font-size="4.3" fill="#383838" stroke="#383838" stroke-width="0.160" text-anchor="middle" textLength="15.30" lengthAdjust="spacingAndGlyphs" >Z-score</text>
<path d="M334.00,266.30 L334.00,266.29 L334.40,266.28 L334.80,266.28 L335.20,266.26 L335.60,266.25 L336.00,266.22 L336.40,266.19 L336.80,266.14 L337.20,266.08 L337.60,265.99 L338.00,265.87 L338.40,265.71 L338.80,265.50 L339.20,265.22 L339.60,264.86 L340.00,264.40 L340.40,263.81 L340.80,263.08 L341.20,262.18 L341.60,261.07 L342.00,259.74 L342.40,258.14 L342.80,256.26 L343.20,254.07 L343.60,251.55 L344.00,248.68 L344.40,245.47 L344.80,241.92 L345.20,238.04 L345.60,233.88 L346.00,229.47 L346.40,224.87 L346.80,220.17 L347.20,215.45 L347.60,210.80 L348.00,206.33 L348.40,202.14 L348.80,198.34 L349.20,195.04 L349.60,192.31 L350.00,190.25 L350.40,188.91 L350.80,188.32 L351.20,188.49 L351.60,189.33 L352.00,190.81 L352.40,192.90 L352.80,195.55 L353.20,198.70 L353.60,202.26 L354.00,206.15 L354.40,210.29 L354.80,214.60 L355.20,218.99 L355.60,223.38 L356.00,227.70 L356.40,231.88 L356.80,235.87 L357.20,239.63 L357.60,243.13 L358.00,246.34 L358.40,249.26 L358.80,251.87 L359.20,254.19 L359.60,256.23 L360.00,257.99 L360.40,259.50 L360.80,260.79 L361.20,261.87 L361.60,262.77 L362.00,263.51 L362.40,264.12 L362.80,264.61 L363.20,265.00 L363.60,265.30 L364.00,265.55 L364.40,265.74 L364.80,265.88 L365.20,265.99 L365.60,266.07 L366.00,266.14 L366.40,266.18 L366.80,266.22 L367.20,266.24 L367.60,266.26 L368.00,266.27 L368.00,266.30 Z" fill="#dfdfdf"/>
<path d="M326.00,266.30 L326.00,266.30 L326.30,266.30 L326.60,266.30 L326.90,266.30 L327.20,266.30 L327.50,266.30 L327.80,266.30 L328.10,266.30 L328.40,266.30 L328.70,266.30 L329.00,266.30 L329.30,266.30 L329.60,266.30 L329.90,266.30 L330.20,266.30 L330.50,266.30 L330.80,266.30 L331.10,266.30 L331.40,266.30 L331.70,266.30 L332.00,266.30 L332.30,266.30 L332.60,266.30 L332.90,266.30 L333.20,266.30 L333.50,266.30 L333.80,266.30 L334.10,266.30 L334.40,266.29 L334.70,266.29 L335.00,266.29 L335.30,266.29 L335.60,266.28 L335.90,266.28 L336.20,266.27 L336.50,266.26 L336.80,266.25 L337.10,266.24 L337.40,266.23 L337.70,266.21 L338.00,266.18 L338.30,266.16 L338.60,266.12 L338.90,266.08 L339.20,266.03 L339.50,265.97 L339.80,265.89 L340.10,265.81 L340.40,265.70 L340.70,265.58 L341.00,265.43 L341.30,265.26 L341.60,265.06 L341.90,264.83 L342.20,264.56 L342.50,264.25 L342.80,263.89 L343.10,263.48 L343.40,263.01 L343.70,262.48 L344.00,261.89 L344.30,261.22 L344.60,260.47 L344.90,259.63 L345.20,258.71 L345.50,257.70 L345.80,256.58 L346.10,255.37 L346.40,254.05 L346.70,252.62 L347.00,251.09 L347.30,249.45 L347.60,247.71 L347.90,245.87 L348.20,243.94 L348.50,241.91 L348.80,239.81 L349.10,237.64 L349.40,235.41 L349.70,233.14 L350.00,230.84 L350.30,228.53 L350.60,226.23 L350.90,223.95 L351.20,221.71 L351.50,219.54 L351.80,217.46 L352.10,215.48 L352.40,213.62 L352.70,211.92 L353.00,210.37 L353.30,209.01 L353.60,207.84 L353.90,206.88 L354.20,206.14 L354.50,205.63 L354.80,205.35 L355.10,205.32 L355.40,205.70 L355.70,206.51 L356.00,207.74 L356.30,209.37 L356.60,211.35 L356.90,213.66 L357.20,216.23 L357.50,219.03 L357.80,222.00 L358.10,225.09 L358.40,228.24 L358.70,231.41 L359.00,234.55 L359.30,237.62 L359.60,240.58 L359.90,243.41 L360.20,246.07 L360.50,248.55 L360.80,250.85 L361.10,252.94 L361.40,254.84 L361.70,256.54 L362.00,258.04 L362.30,259.37 L362.60,260.53 L362.90,261.52 L363.20,262.38 L363.50,263.10 L363.80,263.71 L364.10,264.22 L364.40,264.64 L364.70,264.99 L365.00,265.27 L365.30,265.50 L365.60,265.68 L365.90,265.82 L366.20,265.94 L366.50,266.02 L366.80,266.09 L367.10,266.15 L367.40,266.19 L367.70,266.22 L368.00,266.24 L368.30,266.26 L368.60,266.27 L368.90,266.28 L369.20,266.28 L369.50,266.29 L369.80,266.29 L370.10,266.29 L370.40,266.30 L370.70,266.30 L371.00,266.30 L371.30,266.30 L371.60,266.30 L371.90,266.30 L372.20,266.30 L372.50,266.30 L372.80,266.30 L373.10,266.30 L373.40,266.30 L373.70,266.30 L374.00,266.30 L374.30,266.30 L374.60,266.30 L374.90,266.30 L375.20,266.30 L375.50,266.30 L375.80,266.30 L376.10,266.30 L376.40,266.30 L376.70,266.30 L377.00,266.30 L377.30,266.30 L377.60,266.30 L377.90,266.30 L378.20,266.30 L378.50,266.30 L378.80,266.30 L379.10,266.30 L379.40,266.30 L379.70,266.30 L380.00,266.30" fill="none" stroke="#f2a552" stroke-width="0.75"/>
<path d="M326.00,266.30 L326.00,266.30 L326.30,266.30 L326.60,266.30 L326.90,266.30 L327.20,266.30 L327.50,266.30 L327.80,266.30 L328.10,266.30 L328.40,266.30 L328.70,266.30 L329.00,266.30 L329.30,266.30 L329.60,266.30 L329.90,266.30 L330.20,266.30 L330.50,266.30 L330.80,266.30 L331.10,266.30 L331.40,266.30 L331.70,266.30 L332.00,266.30 L332.30,266.30 L332.60,266.29 L332.90,266.29 L333.20,266.29 L333.50,266.29 L333.80,266.28 L334.10,266.28 L334.40,266.27 L334.70,266.26 L335.00,266.26 L335.30,266.24 L335.60,266.23 L335.90,266.21 L336.20,266.19 L336.50,266.16 L336.80,266.13 L337.10,266.09 L337.40,266.05 L337.70,265.99 L338.00,265.92 L338.30,265.84 L338.60,265.74 L338.90,265.63 L339.20,265.49 L339.50,265.34 L339.80,265.15 L340.10,264.94 L340.40,264.68 L340.70,264.39 L341.00,264.06 L341.30,263.68 L341.60,263.24 L341.90,262.74 L342.20,262.18 L342.50,261.55 L342.80,260.83 L343.10,260.03 L343.40,259.15 L343.70,258.16 L344.00,257.07 L344.30,255.88 L344.60,254.57 L344.90,253.15 L345.20,251.60 L345.50,249.94 L345.80,248.15 L346.10,246.23 L346.40,244.20 L346.70,242.05 L347.00,239.78 L347.30,237.40 L347.60,234.93 L347.90,232.36 L348.20,229.72 L348.50,227.01 L348.80,224.25 L349.10,221.46 L349.40,218.66 L349.70,215.87 L350.00,213.10 L350.30,210.39 L350.60,207.74 L350.90,205.19 L351.20,202.76 L351.50,200.47 L351.80,198.35 L352.10,196.40 L352.40,194.66 L352.70,193.14 L353.00,191.86 L353.30,190.82 L353.60,190.05 L353.90,189.55 L354.20,189.32 L354.50,189.45 L354.80,190.23 L355.10,191.67 L355.40,193.72 L355.70,196.33 L356.00,199.43 L356.30,202.96 L356.60,206.83 L356.90,210.95 L357.20,215.23 L357.50,219.60 L357.80,223.96 L358.10,228.26 L358.40,232.41 L358.70,236.38 L359.00,240.11 L359.30,243.58 L359.60,246.76 L359.90,249.65 L360.20,252.23 L360.50,254.51 L360.80,256.52 L361.10,258.25 L361.40,259.73 L361.70,260.99 L362.00,262.04 L362.30,262.92 L362.60,263.64 L362.90,264.22 L363.20,264.69 L363.50,265.07 L363.80,265.36 L364.10,265.59 L364.40,265.77 L364.70,265.91 L365.00,266.01 L365.30,266.09 L365.60,266.15 L365.90,266.19 L366.20,266.22 L366.50,266.25 L366.80,266.26 L367.10,266.27 L367.40,266.28 L367.70,266.29 L368.00,266.29 L368.30,266.29 L368.60,266.30 L368.90,266.30 L369.20,266.30 L369.50,266.30 L369.80,266.30 L370.10,266.30 L370.40,266.30 L370.70,266.30 L371.00,266.30 L371.30,266.30 L371.60,266.30 L371.90,266.30 L372.20,266.30 L372.50,266.30 L372.80,266.30 L373.10,266.30 L373.40,266.30 L373.70,266.30 L374.00,266.30 L374.30,266.30 L374.60,266.30 L374.90,266.30 L375.20,266.30 L375.50,266.30 L375.80,266.30 L376.10,266.30 L376.40,266.30 L376.70,266.30 L377.00,266.30 L377.30,266.30 L377.60,266.30 L377.90,266.30" fill="none" stroke="#5a2db4" stroke-width="0.75"/>
<rect x="321.60" y="180.70" width="86.60" height="85.60" fill="none" stroke="#8c8c8c" stroke-width="0.6" />
<line x1="321.60" y1="180.70" x2="321.60" y2="266.30" stroke="#666" stroke-width="0.6" />
<line x1="321.60" y1="266.30" x2="408.20" y2="266.30" stroke="#666" stroke-width="0.6" />
<line x1="320.30" y1="266.30" x2="321.60" y2="266.30" stroke="#555" stroke-width="0.45" />
<line x1="320.30" y1="255.60" x2="321.60" y2="255.60" stroke="#555" stroke-width="0.45" />
<line x1="320.30" y1="244.90" x2="321.60" y2="244.90" stroke="#555" stroke-width="0.45" />
<line x1="320.30" y1="234.20" x2="321.60" y2="234.20" stroke="#555" stroke-width="0.45" />
<line x1="320.30" y1="223.50" x2="321.60" y2="223.50" stroke="#555" stroke-width="0.45" />
<line x1="320.30" y1="212.80" x2="321.60" y2="212.80" stroke="#555" stroke-width="0.45" />
<line x1="320.30" y1="202.10" x2="321.60" y2="202.10" stroke="#555" stroke-width="0.45" />
<line x1="320.30" y1="191.40" x2="321.60" y2="191.40" stroke="#555" stroke-width="0.45" />
<line x1="324.00" y1="266.30" x2="324.00" y2="267.20" stroke="#555" stroke-width="0.35" />
<line x1="327.00" y1="266.30" x2="327.00" y2="267.20" stroke="#555" stroke-width="0.35" />
<line x1="330.00" y1="266.30" x2="330.00" y2="267.20" stroke="#555" stroke-width="0.35" />
<line x1="333.00" y1="266.30" x2="333.00" y2="267.20" stroke="#555" stroke-width="0.35" />
<line x1="336.00" y1="266.30" x2="336.00" y2="267.20" stroke="#555" stroke-width="0.35" />
<line x1="339.00" y1="266.30" x2="339.00" y2="267.20" stroke="#555" stroke-width="0.35" />
<line x1="342.00" y1="266.30" x2="342.00" y2="267.20" stroke="#555" stroke-width="0.35" />
<line x1="345.00" y1="266.30" x2="345.00" y2="267.20" stroke="#555" stroke-width="0.35" />
<line x1="348.00" y1="266.30" x2="348.00" y2="267.20" stroke="#555" stroke-width="0.35" />
<line x1="351.00" y1="266.30" x2="351.00" y2="267.20" stroke="#555" stroke-width="0.35" />
<line x1="357.00" y1="266.30" x2="357.00" y2="267.20" stroke="#555" stroke-width="0.35" />
<line x1="363.00" y1="266.30" x2="363.00" y2="267.20" stroke="#555" stroke-width="0.35" />
<line x1="369.00" y1="266.30" x2="369.00" y2="267.20" stroke="#555" stroke-width="0.35" />
<line x1="375.00" y1="266.30" x2="375.00" y2="267.20" stroke="#555" stroke-width="0.35" />
<line x1="381.00" y1="266.30" x2="381.00" y2="267.20" stroke="#555" stroke-width="0.35" />
<line x1="387.00" y1="266.30" x2="387.00" y2="267.20" stroke="#555" stroke-width="0.35" />
<line x1="393.00" y1="266.30" x2="393.00" y2="267.20" stroke="#555" stroke-width="0.35" />
<line x1="399.00" y1="266.30" x2="399.00" y2="267.20" stroke="#555" stroke-width="0.35" />
<line x1="405.00" y1="266.30" x2="405.00" y2="267.20" stroke="#555" stroke-width="0.35" />
<text x="376.60" y="194.00" font-size="5.2" fill="#a0a0a0" stroke="#a0a0a0" stroke-width="0.100" textLength="20.50" lengthAdjust="spacingAndGlyphs" >IgG Ctrl</text>
<text x="386.40" y="217.90" font-size="5.4" fill="#f2a552" stroke="#f2a552" stroke-width="0.100" text-anchor="middle" textLength="9.65" lengthAdjust="spacingAndGlyphs" >WT</text>
<text x="374.60" y="225.60" font-size="5.4" fill="#f2a552" stroke="#f2a552" stroke-width="0.100" textLength="23.70" lengthAdjust="spacingAndGlyphs" >MFI:518</text>
<text x="386.40" y="239.20" font-size="5.4" fill="#5a2db4" stroke="#5a2db4" stroke-width="0.100" text-anchor="middle" textLength="8.97" lengthAdjust="spacingAndGlyphs" >KO</text>
<text x="374.60" y="245.80" font-size="5.4" fill="#5a2db4" stroke="#5a2db4" stroke-width="0.100" textLength="23.70" lengthAdjust="spacingAndGlyphs" >MFI:588</text>
<line x1="313.00" y1="208.30" x2="313.00" y2="242.50" stroke="#222" stroke-width="0.7" />
<path d="M311.10,209.60 L313.00,205.30 L314.90,209.60 Z" fill="#1a1a1a"/>
<text x="0" y="0" font-size="6.9" fill="#222" text-anchor="middle" stroke="#222" stroke-width="0.120" textLength="20.70" lengthAdjust="spacingAndGlyphs" transform="translate(314.70 255.45) rotate(-90)">Count</text>
<text x="322.00" y="279.00" font-size="8.2" fill="#222" stroke="#222" stroke-width="0.120" textLength="31.60" lengthAdjust="spacingAndGlyphs" >Anexin V</text>
<line x1="359.90" y1="276.00" x2="396.80" y2="276.00" stroke="#222" stroke-width="0.7" />
<path d="M395.50,274.10 L399.80,276.00 L395.50,277.90 Z" fill="#1a1a1a"/>
<path d="M330.00,372.40 C331.97,372.40 339.63,375.30 341.80,372.40 C343.97,369.50 342.63,359.77 343.00,355.00 C343.37,350.23 343.45,350.47 344.00,343.80 C344.55,337.13 345.58,322.60 346.30,315.00 C347.02,307.40 347.68,298.70 348.30,298.20 C348.92,297.70 349.47,306.92 350.00,312.00 C350.53,317.08 350.97,322.70 351.50,328.70 C352.03,334.70 352.65,342.62 353.20,348.00 C353.75,353.38 354.17,358.00 354.80,361.00 C355.43,364.00 356.13,364.75 357.00,366.00 C357.87,367.25 358.67,367.43 360.00,368.50 C361.33,369.57 363.33,371.75 365.00,372.40 C366.67,373.05 369.17,372.40 370.00,372.40 Z" fill="#dfdfdf"/>
<path d="M324.00,372.40 C326.00,372.40 333.25,372.80 336.00,372.40 C338.75,372.00 339.17,372.07 340.50,370.00 C341.83,367.93 342.88,363.47 344.00,360.00 C345.12,356.53 346.12,350.20 347.20,349.20 C348.28,348.20 349.42,352.47 350.50,354.00 C351.58,355.53 352.45,357.95 353.70,358.40 C354.95,358.85 356.78,357.18 358.00,356.70 C359.22,356.22 360.08,356.28 361.00,355.50 C361.92,354.72 362.57,353.95 363.50,352.00 C364.43,350.05 365.37,349.47 366.60,343.80 C367.83,338.13 369.47,324.63 370.90,318.00 C372.33,311.37 374.12,303.28 375.20,304.00 C376.28,304.72 376.50,313.87 377.40,322.30 C378.30,330.73 379.70,346.98 380.60,354.60 C381.50,362.22 382.08,365.03 382.80,368.00 C383.52,370.97 382.87,371.67 384.90,372.40 C386.93,373.13 393.32,372.40 395.00,372.40" fill="none" stroke="#f2a552" stroke-width="0.75"/>
<path d="M324.00,372.40 C326.08,372.40 333.67,372.80 336.50,372.40 C339.33,372.00 339.67,371.73 341.00,370.00 C342.33,368.27 343.18,365.00 344.50,362.00 C345.82,359.00 347.65,353.08 348.90,352.00 C350.15,350.92 351.02,354.28 352.00,355.50 C352.98,356.72 353.98,359.02 354.80,359.30 C355.62,359.58 356.20,357.35 356.90,357.20 C357.60,357.05 358.23,358.93 359.00,358.40 C359.77,357.87 360.60,356.43 361.50,354.00 C362.40,351.57 363.20,349.80 364.40,343.80 C365.60,337.80 367.37,325.00 368.70,318.00 C370.03,311.00 371.32,301.80 372.40,301.80 C373.48,301.80 374.20,309.20 375.20,318.00 C376.20,326.80 377.52,346.27 378.40,354.60 C379.28,362.93 379.78,365.03 380.50,368.00 C381.22,370.97 380.28,371.67 382.70,372.40 C385.12,373.13 392.95,372.40 395.00,372.40" fill="none" stroke="#5a2db4" stroke-width="0.75"/>
<rect x="322.60" y="290.00" width="86.80" height="82.40" fill="none" stroke="#8c8c8c" stroke-width="0.6" />
<line x1="322.60" y1="290.00" x2="322.60" y2="372.40" stroke="#666" stroke-width="0.6" />
<line x1="322.60" y1="372.40" x2="409.40" y2="372.40" stroke="#666" stroke-width="0.6" />
<line x1="321.30" y1="372.40" x2="322.60" y2="372.40" stroke="#555" stroke-width="0.45" />
<line x1="321.30" y1="362.10" x2="322.60" y2="362.10" stroke="#555" stroke-width="0.45" />
<line x1="321.30" y1="351.80" x2="322.60" y2="351.80" stroke="#555" stroke-width="0.45" />
<line x1="321.30" y1="341.50" x2="322.60" y2="341.50" stroke="#555" stroke-width="0.45" />
<line x1="321.30" y1="331.20" x2="322.60" y2="331.20" stroke="#555" stroke-width="0.45" />
<line x1="321.30" y1="320.90" x2="322.60" y2="320.90" stroke="#555" stroke-width="0.45" />
<line x1="321.30" y1="310.60" x2="322.60" y2="310.60" stroke="#555" stroke-width="0.45" />
<line x1="321.30" y1="300.30" x2="322.60" y2="300.30" stroke="#555" stroke-width="0.45" />
<line x1="325.00" y1="372.40" x2="325.00" y2="373.30" stroke="#555" stroke-width="0.35" />
<line x1="328.00" y1="372.40" x2="328.00" y2="373.30" stroke="#555" stroke-width="0.35" />
<line x1="331.00" y1="372.40" x2="331.00" y2="373.30" stroke="#555" stroke-width="0.35" />
<line x1="334.00" y1="372.40" x2="334.00" y2="373.30" stroke="#555" stroke-width="0.35" />
<line x1="337.00" y1="372.40" x2="337.00" y2="373.30" stroke="#555" stroke-width="0.35" />
<line x1="340.00" y1="372.40" x2="340.00" y2="373.30" stroke="#555" stroke-width="0.35" />
<line x1="346.00" y1="372.40" x2="346.00" y2="373.30" stroke="#555" stroke-width="0.35" />
<line x1="352.00" y1="372.40" x2="352.00" y2="373.30" stroke="#555" stroke-width="0.35" />
<line x1="358.00" y1="372.40" x2="358.00" y2="373.30" stroke="#555" stroke-width="0.35" />
<line x1="364.00" y1="372.40" x2="364.00" y2="373.30" stroke="#555" stroke-width="0.35" />
<line x1="370.00" y1="372.40" x2="370.00" y2="373.30" stroke="#555" stroke-width="0.35" />
<line x1="376.00" y1="372.40" x2="376.00" y2="373.30" stroke="#555" stroke-width="0.35" />
<line x1="382.00" y1="372.40" x2="382.00" y2="373.30" stroke="#555" stroke-width="0.35" />
<line x1="388.00" y1="372.40" x2="388.00" y2="373.30" stroke="#555" stroke-width="0.35" />
<line x1="394.00" y1="372.40" x2="394.00" y2="373.30" stroke="#555" stroke-width="0.35" />
<line x1="400.00" y1="372.40" x2="400.00" y2="373.30" stroke="#555" stroke-width="0.35" />
<line x1="406.00" y1="372.40" x2="406.00" y2="373.30" stroke="#555" stroke-width="0.35" />
<text x="383.60" y="313.10" font-size="5.2" fill="#a0a0a0" stroke="#a0a0a0" stroke-width="0.100" textLength="21.50" lengthAdjust="spacingAndGlyphs" >IgG Ctrl</text>
<text x="395.00" y="325.20" font-size="5.4" fill="#f2a552" stroke="#f2a552" stroke-width="0.100" text-anchor="middle" textLength="9.65" lengthAdjust="spacingAndGlyphs" >WT</text>
<text x="381.10" y="332.10" font-size="5.4" fill="#f2a552" stroke="#f2a552" stroke-width="0.100" textLength="27.20" lengthAdjust="spacingAndGlyphs" >MFI:6640</text>
<text x="395.00" y="346.40" font-size="5.4" fill="#5a2db4" stroke="#5a2db4" stroke-width="0.100" text-anchor="middle" textLength="8.97" lengthAdjust="spacingAndGlyphs" >KO</text>
<text x="381.10" y="353.40" font-size="5.4" fill="#5a2db4" stroke="#5a2db4" stroke-width="0.100" textLength="27.20" lengthAdjust="spacingAndGlyphs" >MFI:6351</text>
<line x1="315.20" y1="313.70" x2="315.20" y2="348.20" stroke="#222" stroke-width="0.7" />
<path d="M313.30,315.00 L315.20,310.70 L317.10,315.00 Z" fill="#1a1a1a"/>
<text x="0" y="0" font-size="7.2" fill="#222" text-anchor="middle" stroke="#222" stroke-width="0.120" textLength="20.40" lengthAdjust="spacingAndGlyphs" transform="translate(317.30 360.70) rotate(-90)">Count</text>
<text x="324.90" y="387.40" font-size="7.7" fill="#222" stroke="#222" stroke-width="0.120" textLength="14.50" lengthAdjust="spacingAndGlyphs" >Ki67</text>
<line x1="342.00" y1="385.50" x2="379.00" y2="385.50" stroke="#222" stroke-width="0.7" />
<path d="M377.70,383.60 L382.00,385.50 L377.70,387.40 Z" fill="#1a1a1a"/>
<path d="M655.00,207.80 L655.00,207.50 L655.40,207.50 L655.80,207.50 L656.20,207.50 L656.60,207.50 L657.00,207.49 L657.40,207.49 L657.80,207.49 L658.20,207.48 L658.60,207.47 L659.00,207.46 L659.40,207.44 L659.80,207.42 L660.20,207.39 L660.60,207.35 L661.00,207.30 L661.40,207.24 L661.80,207.17 L662.20,207.08 L662.60,206.98 L663.00,206.87 L663.40,206.74 L663.80,206.58 L664.20,206.38 L664.60,206.08 L665.00,205.65 L665.40,204.98 L665.80,203.98 L666.20,202.53 L666.60,200.57 L667.00,198.07 L667.40,195.18 L667.80,192.14 L668.20,189.33 L668.60,187.18 L669.00,186.06 L669.40,186.17 L669.80,187.51 L670.20,189.87 L670.60,192.86 L671.00,196.05 L671.40,199.06 L671.80,201.64 L672.20,203.65 L672.60,205.10 L673.00,206.08 L673.40,206.70 L673.80,207.06 L674.20,207.26 L674.60,207.37 L675.00,207.43 L675.40,207.46 L675.80,207.48 L676.20,207.48 L676.60,207.49 L677.00,207.49 L677.40,207.50 L677.80,207.50 L678.20,207.50 L678.60,207.50 L679.00,207.50 L679.40,207.50 L679.80,207.50 L680.20,207.50 L680.60,207.50 L681.00,207.50 L681.40,207.50 L681.80,207.50 L682.20,207.50 L682.60,207.50 L683.00,207.50 L683.00,207.80 Z" fill="#8c8c8c"/>
<line x1="589.20" y1="207.80" x2="683.40" y2="207.80" stroke="#9a9a9a" stroke-width="0.55" />
<path d="M612.00,237.20 C613.38,237.20 618.47,237.40 620.30,237.20 C622.13,237.00 622.12,236.75 623.00,236.00 C623.88,235.25 624.85,234.03 625.60,232.70 C626.35,231.37 626.90,229.92 627.50,228.00 C628.10,226.08 628.62,222.78 629.20,221.20 C629.78,219.62 630.42,219.23 631.00,218.50 C631.58,217.77 632.12,216.80 632.70,216.80 C633.28,216.80 633.92,219.22 634.50,218.50 C635.08,217.78 635.67,213.97 636.20,212.50 C636.73,211.03 637.23,209.78 637.70,209.70 C638.17,209.62 638.65,211.12 639.00,212.00 C639.35,212.88 639.47,214.75 639.80,215.00 C640.13,215.25 640.57,213.70 641.00,213.50 C641.43,213.30 641.93,212.88 642.40,213.80 C642.87,214.72 643.35,216.88 643.80,219.00 C644.25,221.12 644.65,225.33 645.10,226.50 C645.55,227.67 646.07,226.00 646.50,226.00 C646.93,226.00 647.28,225.75 647.70,226.50 C648.12,227.25 648.55,229.32 649.00,230.50 C649.45,231.68 649.82,233.02 650.40,233.60 C650.98,234.18 651.77,233.85 652.50,234.00 C653.23,234.15 654.05,234.12 654.80,234.50 C655.55,234.88 656.27,235.85 657.00,236.30 C657.73,236.75 657.37,237.05 659.20,237.20 C661.03,237.35 666.53,237.20 668.00,237.20 Z" fill="#EAD078"/>
<line x1="589.20" y1="237.20" x2="683.40" y2="237.20" stroke="#EAD078" stroke-width="0.7" />
<path d="M622.00,267.00 C623.48,267.00 628.90,267.42 630.90,267.00 C632.90,266.58 632.97,265.93 634.00,264.50 C635.03,263.07 636.18,259.90 637.10,258.40 C638.02,256.90 638.77,256.38 639.50,255.50 C640.23,254.62 640.92,254.18 641.50,253.10 C642.08,252.02 642.55,250.48 643.00,249.00 C643.45,247.52 643.83,244.70 644.20,244.20 C644.57,243.70 644.90,245.40 645.20,246.00 C645.50,246.60 645.57,248.30 646.00,247.80 C646.43,247.30 647.22,244.33 647.80,243.00 C648.38,241.67 649.00,239.47 649.50,239.80 C650.00,240.13 650.35,243.08 650.80,245.00 C651.25,246.92 651.70,250.30 652.20,251.30 C652.70,252.30 653.27,251.28 653.80,251.00 C654.33,250.72 654.95,249.10 655.40,249.60 C655.85,250.10 656.15,252.23 656.50,254.00 C656.85,255.77 657.08,258.70 657.50,260.20 C657.92,261.70 658.42,262.27 659.00,263.00 C659.58,263.73 660.25,264.10 661.00,264.60 C661.75,265.10 662.62,265.60 663.50,266.00 C664.38,266.40 664.38,266.83 666.30,267.00 C668.22,267.17 673.55,267.00 675.00,267.00 Z" fill="#521C96"/>
<rect x="589.20" y="178.60" width="94.20" height="88.40" fill="none" stroke="#8c8c8c" stroke-width="0.6" />
<line x1="589.20" y1="178.60" x2="589.20" y2="267.00" stroke="#666" stroke-width="0.6" />
<line x1="589.20" y1="267.00" x2="683.40" y2="267.00" stroke="#666" stroke-width="0.6" />
<text x="593.40" y="187.50" font-size="4.5" fill="#303030" stroke="#303030" stroke-width="0.100" textLength="14.20" lengthAdjust="spacingAndGlyphs" >Naive</text>
<text x="593.40" y="216.40" font-size="4.5" fill="#303030" stroke="#303030" stroke-width="0.100" textLength="8.20" lengthAdjust="spacingAndGlyphs" >WT</text>
<text x="593.4" y="245.9" font-size="4.5" fill="#303030" stroke="#303030" stroke-width="0.1" textLength="14.2" lengthAdjust="spacingAndGlyphs">XPC<tspan font-size="3.2" dy="-1.7">-/-</tspan></text>
<line x1="581.70" y1="209.90" x2="581.70" y2="244.10" stroke="#222" stroke-width="0.7" />
<path d="M579.80,211.20 L581.70,206.90 L583.60,211.20 Z" fill="#1a1a1a"/>
<text x="0" y="0" font-size="7.0" fill="#222" text-anchor="middle" stroke="#222" stroke-width="0.120" textLength="20.90" lengthAdjust="spacingAndGlyphs" transform="translate(585.00 256.65) rotate(-90)">Count</text>
<text x="588.80" y="278.50" font-size="7.8" fill="#222" stroke="#222" stroke-width="0.120" textLength="20.80" lengthAdjust="spacingAndGlyphs" >CFSE</text>
<line x1="611.40" y1="276.20" x2="648.90" y2="276.20" stroke="#222" stroke-width="0.7" />
<path d="M647.60,274.30 L651.90,276.20 L647.60,278.10 Z" fill="#1a1a1a"/>
<rect x="447.30" y="200.10" width="11.40" height="62.20" fill="#eaeaea" stroke="#3a3a3a" stroke-width="0.8" />
<rect x="465.60" y="218.30" width="11.10" height="44.00" fill="#eaeaea" stroke="#3a3a3a" stroke-width="0.8" />
<line x1="440.50" y1="194.30" x2="440.50" y2="262.30" stroke="#2a2a2a" stroke-width="0.75" />
<line x1="440.50" y1="262.30" x2="477.80" y2="262.30" stroke="#2a2a2a" stroke-width="0.75" />
<line x1="437.70" y1="262.30" x2="440.50" y2="262.30" stroke="#2a2a2a" stroke-width="0.6" />
<text x="436.70" y="264.55" font-size="6.4" fill="#1a1a1a" stroke="#1a1a1a" stroke-width="0.120" text-anchor="end" >0</text>
<line x1="437.70" y1="248.66" x2="440.50" y2="248.66" stroke="#2a2a2a" stroke-width="0.6" />
<text x="436.70" y="250.91" font-size="6.4" fill="#1a1a1a" stroke="#1a1a1a" stroke-width="0.120" text-anchor="end" >2</text>
<line x1="437.70" y1="235.02" x2="440.50" y2="235.02" stroke="#2a2a2a" stroke-width="0.6" />
<text x="436.70" y="237.27" font-size="6.4" fill="#1a1a1a" stroke="#1a1a1a" stroke-width="0.120" text-anchor="end" >4</text>
<line x1="437.70" y1="221.38" x2="440.50" y2="221.38" stroke="#2a2a2a" stroke-width="0.6" />
<text x="436.70" y="223.63" font-size="6.4" fill="#1a1a1a" stroke="#1a1a1a" stroke-width="0.120" text-anchor="end" >6</text>
<line x1="437.70" y1="207.74" x2="440.50" y2="207.74" stroke="#2a2a2a" stroke-width="0.6" />
<text x="436.70" y="209.99" font-size="6.4" fill="#1a1a1a" stroke="#1a1a1a" stroke-width="0.120" text-anchor="end" >8</text>
<line x1="437.70" y1="194.10" x2="440.50" y2="194.10" stroke="#2a2a2a" stroke-width="0.6" />
<text x="436.70" y="196.35" font-size="6.4" fill="#1a1a1a" stroke="#1a1a1a" stroke-width="0.120" text-anchor="end" >10</text>
<line x1="453.00" y1="262.30" x2="453.00" y2="264.90" stroke="#2a2a2a" stroke-width="0.6" />
<line x1="471.15" y1="262.30" x2="471.15" y2="264.90" stroke="#2a2a2a" stroke-width="0.6" />
<circle cx="449.20" cy="197.10" r="2.80" fill="#F2D46E" stroke="#444" stroke-width="0.4" />
<circle cx="455.70" cy="199.30" r="2.80" fill="#F2D46E" stroke="#444" stroke-width="0.4" />
<circle cx="449.20" cy="203.30" r="2.80" fill="#F2D46E" stroke="#444" stroke-width="0.4" />
<circle cx="471.10" cy="211.00" r="2.80" fill="#4E1AA0" stroke="#444" stroke-width="0.4" />
<circle cx="471.10" cy="218.00" r="2.80" fill="#4E1AA0" stroke="#444" stroke-width="0.4" />
<circle cx="471.10" cy="225.00" r="2.80" fill="#4E1AA0" stroke="#444" stroke-width="0.4" />
<path d="M452.8,193.7 L452.8,188.1 L470.4,188.1 L470.4,206.3" fill="none" stroke="#222" stroke-width="0.65"/>
<text x="461.70" y="191.40" font-size="11.5" fill="#111" text-anchor="middle" font-weight="bold" >*</text>
<text x="453.00" y="272.90" font-size="6.8" fill="#1a1a1a" stroke="#1a1a1a" stroke-width="0.120" text-anchor="middle" textLength="10.20" lengthAdjust="spacingAndGlyphs" >WT</text>
<text x="471.15" y="272.90" font-size="6.8" fill="#1a1a1a" stroke="#1a1a1a" stroke-width="0.120" text-anchor="middle" textLength="9.50" lengthAdjust="spacingAndGlyphs" >KO</text>
<text x="0" y="0" font-size="6.7" fill="#1a1a1a" text-anchor="middle" stroke="#1a1a1a" stroke-width="0.120" textLength="51.80" lengthAdjust="spacingAndGlyphs" transform="translate(425.60 227.40) rotate(-90)">% CD4<tspan font-size="3.8" dy="-2.2">+</tspan><tspan dy="2.2"> </tspan>Anexin-V<tspan font-size="3.8" dy="-2.2">+</tspan><tspan dy="2.2"> </tspan></text>
<rect x="524.50" y="211.00" width="11.90" height="51.40" fill="#eaeaea" stroke="#3a3a3a" stroke-width="0.8" />
<rect x="542.30" y="212.50" width="11.90" height="49.90" fill="#eaeaea" stroke="#3a3a3a" stroke-width="0.8" />
<line x1="518.40" y1="194.00" x2="518.40" y2="262.40" stroke="#2a2a2a" stroke-width="0.75" />
<line x1="518.40" y1="262.40" x2="560.60" y2="262.40" stroke="#2a2a2a" stroke-width="0.75" />
<line x1="515.60" y1="262.40" x2="518.40" y2="262.40" stroke="#2a2a2a" stroke-width="0.6" />
<text x="514.60" y="264.65" font-size="6.4" fill="#1a1a1a" stroke="#1a1a1a" stroke-width="0.120" text-anchor="end" >0</text>
<line x1="515.60" y1="245.30" x2="518.40" y2="245.30" stroke="#2a2a2a" stroke-width="0.6" />
<text x="514.60" y="247.55" font-size="6.4" fill="#1a1a1a" stroke="#1a1a1a" stroke-width="0.120" text-anchor="end" >200</text>
<line x1="515.60" y1="228.20" x2="518.40" y2="228.20" stroke="#2a2a2a" stroke-width="0.6" />
<text x="514.60" y="230.45" font-size="6.4" fill="#1a1a1a" stroke="#1a1a1a" stroke-width="0.120" text-anchor="end" >400</text>
<line x1="515.60" y1="211.10" x2="518.40" y2="211.10" stroke="#2a2a2a" stroke-width="0.6" />
<text x="514.60" y="213.35" font-size="6.4" fill="#1a1a1a" stroke="#1a1a1a" stroke-width="0.120" text-anchor="end" >600</text>
<line x1="515.60" y1="194.00" x2="518.40" y2="194.00" stroke="#2a2a2a" stroke-width="0.6" />
<text x="514.60" y="196.25" font-size="6.4" fill="#1a1a1a" stroke="#1a1a1a" stroke-width="0.120" text-anchor="end" >800</text>
<line x1="530.45" y1="262.40" x2="530.45" y2="265.00" stroke="#2a2a2a" stroke-width="0.6" />
<line x1="548.25" y1="262.40" x2="548.25" y2="265.00" stroke="#2a2a2a" stroke-width="0.6" />
<circle cx="527.20" cy="211.00" r="2.80" fill="#F2D46E" stroke="#444" stroke-width="0.4" />
<circle cx="530.30" cy="209.00" r="2.80" fill="#F2D46E" stroke="#444" stroke-width="0.4" />
<circle cx="533.80" cy="209.90" r="2.80" fill="#F2D46E" stroke="#444" stroke-width="0.4" />
<circle cx="545.40" cy="212.50" r="2.80" fill="#4E1AA0" stroke="#444" stroke-width="0.4" />
<circle cx="548.70" cy="210.60" r="2.80" fill="#4E1AA0" stroke="#444" stroke-width="0.4" />
<circle cx="552.00" cy="212.00" r="2.80" fill="#4E1AA0" stroke="#444" stroke-width="0.4" />
<path d="M530.4,205.4 L530.4,199 L547.9,199 L547.9,205.4" fill="none" stroke="#222" stroke-width="0.65"/>
<text x="539.40" y="197.00" font-size="5.2" fill="#222" stroke="#222" stroke-width="0.120" text-anchor="middle" >ns</text>
<text x="530.45" y="272.90" font-size="6.8" fill="#1a1a1a" stroke="#1a1a1a" stroke-width="0.120" text-anchor="middle" textLength="10.20" lengthAdjust="spacingAndGlyphs" >WT</text>
<text x="548.25" y="272.90" font-size="6.8" fill="#1a1a1a" stroke="#1a1a1a" stroke-width="0.120" text-anchor="middle" textLength="9.50" lengthAdjust="spacingAndGlyphs" >KO</text>
<text x="0" y="0" font-size="6.7" fill="#1a1a1a" text-anchor="middle" stroke="#1a1a1a" stroke-width="0.120" textLength="44.40" lengthAdjust="spacingAndGlyphs" transform="translate(499.30 222.90) rotate(-90)">Anexin-V (MFI)</text>
<rect x="452.60" y="316.20" width="12.10" height="53.30" fill="#eaeaea" stroke="#3a3a3a" stroke-width="0.8" />
<rect x="470.30" y="315.10" width="12.00" height="54.40" fill="#eaeaea" stroke="#3a3a3a" stroke-width="0.8" />
<line x1="446.50" y1="301.20" x2="446.50" y2="369.50" stroke="#2a2a2a" stroke-width="0.75" />
<line x1="446.50" y1="369.50" x2="482.80" y2="369.50" stroke="#2a2a2a" stroke-width="0.75" />
<line x1="443.70" y1="369.50" x2="446.50" y2="369.50" stroke="#2a2a2a" stroke-width="0.6" />
<text x="442.70" y="371.75" font-size="6.4" fill="#1a1a1a" stroke="#1a1a1a" stroke-width="0.120" text-anchor="end" >0</text>
<line x1="443.70" y1="355.84" x2="446.50" y2="355.84" stroke="#2a2a2a" stroke-width="0.6" />
<text x="442.70" y="358.09" font-size="6.4" fill="#1a1a1a" stroke="#1a1a1a" stroke-width="0.120" text-anchor="end" >20</text>
<line x1="443.70" y1="342.18" x2="446.50" y2="342.18" stroke="#2a2a2a" stroke-width="0.6" />
<text x="442.70" y="344.43" font-size="6.4" fill="#1a1a1a" stroke="#1a1a1a" stroke-width="0.120" text-anchor="end" >40</text>
<line x1="443.70" y1="328.52" x2="446.50" y2="328.52" stroke="#2a2a2a" stroke-width="0.6" />
<text x="442.70" y="330.77" font-size="6.4" fill="#1a1a1a" stroke="#1a1a1a" stroke-width="0.120" text-anchor="end" >60</text>
<line x1="443.70" y1="314.86" x2="446.50" y2="314.86" stroke="#2a2a2a" stroke-width="0.6" />
<text x="442.70" y="317.11" font-size="6.4" fill="#1a1a1a" stroke="#1a1a1a" stroke-width="0.120" text-anchor="end" >80</text>
<line x1="443.70" y1="301.20" x2="446.50" y2="301.20" stroke="#2a2a2a" stroke-width="0.6" />
<text x="442.70" y="303.45" font-size="6.4" fill="#1a1a1a" stroke="#1a1a1a" stroke-width="0.120" text-anchor="end" >100</text>
<line x1="458.65" y1="369.50" x2="458.65" y2="372.10" stroke="#2a2a2a" stroke-width="0.6" />
<line x1="476.30" y1="369.50" x2="476.30" y2="372.10" stroke="#2a2a2a" stroke-width="0.6" />
<circle cx="455.20" cy="317.00" r="2.80" fill="#F2D46E" stroke="#444" stroke-width="0.4" />
<circle cx="458.50" cy="314.30" r="2.80" fill="#F2D46E" stroke="#444" stroke-width="0.4" />
<circle cx="461.90" cy="315.70" r="2.80" fill="#F2D46E" stroke="#444" stroke-width="0.4" />
<circle cx="473.40" cy="311.50" r="2.80" fill="#4E1AA0" stroke="#444" stroke-width="0.4" />
<circle cx="479.50" cy="312.80" r="2.80" fill="#4E1AA0" stroke="#444" stroke-width="0.4" />
<circle cx="477.30" cy="320.40" r="2.80" fill="#4E1AA0" stroke="#444" stroke-width="0.4" />
<path d="M458,305.9 L458,302.3 L476.7,302.3 L476.7,306.7" fill="none" stroke="#222" stroke-width="0.65"/>
<text x="466.90" y="298.60" font-size="5.2" fill="#222" stroke="#222" stroke-width="0.120" text-anchor="middle" >ns</text>
<text x="458.65" y="380.20" font-size="6.8" fill="#1a1a1a" stroke="#1a1a1a" stroke-width="0.120" text-anchor="middle" textLength="10.20" lengthAdjust="spacingAndGlyphs" >WT</text>
<text x="476.30" y="380.20" font-size="6.8" fill="#1a1a1a" stroke="#1a1a1a" stroke-width="0.120" text-anchor="middle" textLength="9.50" lengthAdjust="spacingAndGlyphs" >KO</text>
<text x="0" y="0" font-size="6.7" fill="#1a1a1a" text-anchor="middle" stroke="#1a1a1a" stroke-width="0.120" textLength="38.50" lengthAdjust="spacingAndGlyphs" transform="translate(427.40 334.30) rotate(-90)">% CD4<tspan font-size="3.8" dy="-2.2">+</tspan><tspan dy="2.2"> </tspan>Ki67<tspan font-size="3.8" dy="-2.2">+</tspan><tspan dy="2.2"> </tspan></text>
<rect x="531.40" y="311.50" width="12.10" height="57.90" fill="#eaeaea" stroke="#3a3a3a" stroke-width="0.8" />
<rect x="549.70" y="319.00" width="11.10" height="50.40" fill="#eaeaea" stroke="#3a3a3a" stroke-width="0.8" />
<line x1="525.00" y1="301.40" x2="525.00" y2="369.40" stroke="#2a2a2a" stroke-width="0.75" />
<line x1="525.00" y1="369.40" x2="564.40" y2="369.40" stroke="#2a2a2a" stroke-width="0.75" />
<line x1="522.20" y1="369.40" x2="525.00" y2="369.40" stroke="#2a2a2a" stroke-width="0.6" />
<text x="521.20" y="371.65" font-size="6.4" fill="#1a1a1a" stroke="#1a1a1a" stroke-width="0.120" text-anchor="end" >0</text>
<line x1="522.20" y1="352.40" x2="525.00" y2="352.40" stroke="#2a2a2a" stroke-width="0.6" />
<text x="521.20" y="354.65" font-size="6.4" fill="#1a1a1a" stroke="#1a1a1a" stroke-width="0.120" text-anchor="end" >2000</text>
<line x1="522.20" y1="335.40" x2="525.00" y2="335.40" stroke="#2a2a2a" stroke-width="0.6" />
<text x="521.20" y="337.65" font-size="6.4" fill="#1a1a1a" stroke="#1a1a1a" stroke-width="0.120" text-anchor="end" >4000</text>
<line x1="522.20" y1="318.40" x2="525.00" y2="318.40" stroke="#2a2a2a" stroke-width="0.6" />
<text x="521.20" y="320.65" font-size="6.4" fill="#1a1a1a" stroke="#1a1a1a" stroke-width="0.120" text-anchor="end" >6000</text>
<line x1="522.20" y1="301.40" x2="525.00" y2="301.40" stroke="#2a2a2a" stroke-width="0.6" />
<text x="521.20" y="303.65" font-size="6.4" fill="#1a1a1a" stroke="#1a1a1a" stroke-width="0.120" text-anchor="end" >8000</text>
<line x1="537.45" y1="369.40" x2="537.45" y2="372.00" stroke="#2a2a2a" stroke-width="0.6" />
<line x1="555.25" y1="369.40" x2="555.25" y2="372.00" stroke="#2a2a2a" stroke-width="0.6" />
<circle cx="533.80" cy="312.80" r="2.80" fill="#F2D46E" stroke="#444" stroke-width="0.4" />
<circle cx="537.10" cy="308.70" r="2.80" fill="#F2D46E" stroke="#444" stroke-width="0.4" />
<circle cx="540.80" cy="310.60" r="2.80" fill="#F2D46E" stroke="#444" stroke-width="0.4" />
<circle cx="552.50" cy="315.10" r="2.80" fill="#4E1AA0" stroke="#444" stroke-width="0.4" />
<circle cx="558.00" cy="318.40" r="2.80" fill="#4E1AA0" stroke="#444" stroke-width="0.4" />
<circle cx="552.50" cy="321.20" r="2.80" fill="#4E1AA0" stroke="#444" stroke-width="0.4" />
<path d="M537.4,303.9 L537.4,300.3 L555.5,300.3 L555.5,312.8" fill="none" stroke="#222" stroke-width="0.65"/>
<text x="546.30" y="302.80" font-size="11.5" fill="#111" text-anchor="middle" font-weight="bold" >*</text>
<text x="537.45" y="380.20" font-size="6.8" fill="#1a1a1a" stroke="#1a1a1a" stroke-width="0.120" text-anchor="middle" textLength="10.20" lengthAdjust="spacingAndGlyphs" >WT</text>
<text x="555.25" y="380.20" font-size="6.8" fill="#1a1a1a" stroke="#1a1a1a" stroke-width="0.120" text-anchor="middle" textLength="9.50" lengthAdjust="spacingAndGlyphs" >KO</text>
<text x="0" y="0" font-size="6.7" fill="#1a1a1a" text-anchor="middle" stroke="#1a1a1a" stroke-width="0.120" textLength="29.10" lengthAdjust="spacingAndGlyphs" transform="translate(502.30 334.00) rotate(-90)">Ki67 (MFI)</text>
<rect x="626.80" y="302.70" width="13.80" height="67.50" fill="#eaeaea" stroke="#3a3a3a" stroke-width="0.8" />
<rect x="643.70" y="304.00" width="13.40" height="66.20" fill="#eaeaea" stroke="#3a3a3a" stroke-width="0.8" />
<line x1="619.60" y1="301.30" x2="619.60" y2="370.20" stroke="#2a2a2a" stroke-width="0.75" />
<line x1="619.60" y1="370.20" x2="660.50" y2="370.20" stroke="#2a2a2a" stroke-width="0.75" />
<line x1="616.80" y1="370.20" x2="619.60" y2="370.20" stroke="#2a2a2a" stroke-width="0.6" />
<text x="615.80" y="372.45" font-size="6.4" fill="#1a1a1a" stroke="#1a1a1a" stroke-width="0.120" text-anchor="end" >0</text>
<line x1="616.80" y1="356.42" x2="619.60" y2="356.42" stroke="#2a2a2a" stroke-width="0.6" />
<text x="615.80" y="358.67" font-size="6.4" fill="#1a1a1a" stroke="#1a1a1a" stroke-width="0.120" text-anchor="end" >20</text>
<line x1="616.80" y1="342.64" x2="619.60" y2="342.64" stroke="#2a2a2a" stroke-width="0.6" />
<text x="615.80" y="344.89" font-size="6.4" fill="#1a1a1a" stroke="#1a1a1a" stroke-width="0.120" text-anchor="end" >40</text>
<line x1="616.80" y1="328.86" x2="619.60" y2="328.86" stroke="#2a2a2a" stroke-width="0.6" />
<text x="615.80" y="331.11" font-size="6.4" fill="#1a1a1a" stroke="#1a1a1a" stroke-width="0.120" text-anchor="end" >60</text>
<line x1="616.80" y1="315.08" x2="619.60" y2="315.08" stroke="#2a2a2a" stroke-width="0.6" />
<text x="615.80" y="317.33" font-size="6.4" fill="#1a1a1a" stroke="#1a1a1a" stroke-width="0.120" text-anchor="end" >80</text>
<line x1="616.80" y1="301.30" x2="619.60" y2="301.30" stroke="#2a2a2a" stroke-width="0.6" />
<text x="615.80" y="303.55" font-size="6.4" fill="#1a1a1a" stroke="#1a1a1a" stroke-width="0.120" text-anchor="end" >100</text>
<line x1="633.70" y1="370.20" x2="633.70" y2="372.80" stroke="#2a2a2a" stroke-width="0.6" />
<line x1="650.40" y1="370.20" x2="650.40" y2="372.80" stroke="#2a2a2a" stroke-width="0.6" />
<circle cx="629.40" cy="302.60" r="2.80" fill="#4E1AA0" stroke="#444" stroke-width="0.4" />
<circle cx="632.40" cy="300.80" r="2.80" fill="#4E1AA0" stroke="#444" stroke-width="0.4" />
<circle cx="635.50" cy="301.80" r="2.80" fill="#4E1AA0" stroke="#444" stroke-width="0.4" />
<circle cx="638.20" cy="302.40" r="2.80" fill="#4E1AA0" stroke="#444" stroke-width="0.4" />
<circle cx="646.20" cy="307.80" r="2.80" fill="#F2D46E" stroke="#444" stroke-width="0.4" />
<circle cx="650.30" cy="302.20" r="2.80" fill="#F2D46E" stroke="#444" stroke-width="0.4" />
<circle cx="654.60" cy="302.70" r="2.80" fill="#F2D46E" stroke="#444" stroke-width="0.4" />
<path d="M633,297.6 L633,293.9 L650.8,293.9 L650.8,297.6" fill="none" stroke="#222" stroke-width="0.65"/>
<text x="641.50" y="290.30" font-size="5.2" fill="#222" stroke="#222" stroke-width="0.120" text-anchor="middle" >ns</text>
<text x="633.70" y="380.60" font-size="6.8" fill="#1a1a1a" stroke="#1a1a1a" stroke-width="0.120" text-anchor="middle" textLength="10.20" lengthAdjust="spacingAndGlyphs" >WT</text>
<text x="650.40" y="380.60" font-size="6.8" fill="#1a1a1a" stroke="#1a1a1a" stroke-width="0.120" text-anchor="middle" textLength="9.50" lengthAdjust="spacingAndGlyphs" >KO</text>
<text x="0" y="0" font-size="6.7" fill="#1a1a1a" text-anchor="middle" stroke="#1a1a1a" stroke-width="0.120" textLength="33.00" lengthAdjust="spacingAndGlyphs" transform="translate(587.20 334.60) rotate(-90)">CFSE+ (%)</text>
<text x="0" y="0" font-size="6.6" fill="#1a1a1a" text-anchor="middle" stroke="#1a1a1a" stroke-width="0.120" textLength="82.60" lengthAdjust="spacingAndGlyphs" transform="translate(596.20 334.50) rotate(-90)">(gated in Live<tspan font-size="3.8" dy="-2.2">+</tspan><tspan dy="2.2"> </tspan>CD4<tspan font-size="3.8" dy="-2.2">+</tspan><tspan dy="2.2"> </tspan>RORγt<tspan font-size="3.8" dy="-2.2">+</tspan><tspan dy="2.2"> </tspan>)</text>
<text x="0.60" y="10.70" font-size="12.6" fill="#000" font-weight="bold" >a)</text>
<text x="179.50" y="11.95" font-size="12.6" fill="#000" font-weight="bold" >b)</text>
<text x="348.10" y="12.20" font-size="12.6" fill="#000" font-weight="bold" >c)</text>
<text x="480.10" y="10.10" font-size="12.6" fill="#000" font-weight="bold" >d)</text>
<text x="4.50" y="169.10" font-size="12.6" fill="#000" font-weight="bold" >e)</text>
<text x="309.80" y="175.90" font-size="12.6" fill="#000" font-weight="bold" >f)</text>
<text x="305.30" y="295.80" font-size="12.6" fill="#000" font-weight="bold" >g)</text>
<text x="573.20" y="176.30" font-size="12.6" fill="#000" font-weight="bold" >h)</text>
</svg></body></html>
